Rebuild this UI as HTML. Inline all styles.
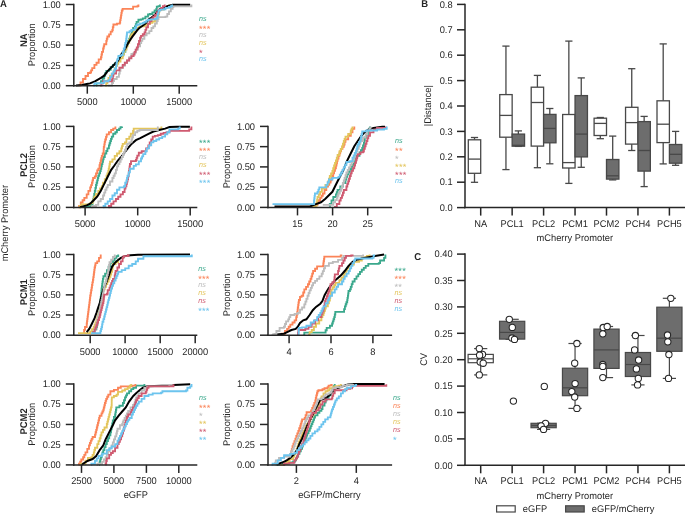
<!DOCTYPE html>
<html><head><meta charset="utf-8"><style>
html,body{margin:0;padding:0;background:#fff;width:685px;height:514px;overflow:hidden}
svg{display:block;font-family:"Liberation Sans",sans-serif;will-change:transform;text-rendering:geometricPrecision}
</style></head><body>
<svg width="685" height="514" viewBox="0 0 685 514">
<rect width="685" height="514" fill="#fff"/>
<polyline points="96.0,85.5 96.5,85.5 96.5,83.4 100.9,83.4 100.9,81.2 102.6,81.2 102.6,78.5 104.2,78.5 104.2,75.7 105.2,75.7 105.2,73.2 106.3,73.2 106.3,70.8 109.1,70.8 109.1,69.7 110.7,69.7 110.7,67.0 112.9,67.0 112.9,64.8 115.0,64.8 115.0,63.2 117.2,63.2 117.2,61.6 118.1,61.6 118.1,58.9 118.9,58.9 118.9,56.1 121.6,56.1 121.6,54.5 123.8,54.5 123.8,51.8 125.4,51.8 125.4,48.5 126.2,48.5 126.2,46.4 127.0,46.4 127.0,44.2 128.1,44.2 128.1,40.9 129.2,40.9 129.2,38.7 130.0,38.7 130.0,36.5 130.8,36.5 130.8,34.4 131.9,34.4 131.9,32.2 132.5,32.2 132.5,30.1 133.1,30.1 133.1,28.0 134.9,28.0 134.9,26.3 135.8,26.3 135.8,24.1 136.6,24.1 136.6,21.9 138.4,21.9 138.4,19.7 141.0,19.7 141.0,19.3 142.8,19.3 142.8,18.4 145.4,18.4 145.4,16.6 148.0,16.6 148.0,14.5 149.8,14.5 149.8,14.0 152.4,14.0 152.4,12.3 154.6,12.3 154.6,10.5 156.3,10.5 156.3,8.8 156.8,8.8 156.8,6.6 158.5,6.6 158.5,6.1 159.9,6.1 159.9,4.5" fill="none" stroke="#3aa88c" stroke-width="1.85" stroke-linejoin="miter" stroke-linecap="butt"/>
<polyline points="78.7,85.2 80.5,85.2 80.5,82.5 83.0,82.5 83.0,79.0 85.5,79.0 85.5,76.0 88.0,76.0 88.0,73.0 90.0,73.0 90.0,72.5 91.1,72.5 91.1,70.3 92.2,70.3 92.2,68.1 94.4,68.1 94.4,64.8 96.5,64.8 96.5,62.7 98.7,62.7 98.7,59.4 100.9,59.4 100.9,57.2 101.5,57.2 101.5,54.5 102.0,54.5 102.0,51.8 103.1,51.8 103.1,48.5 103.7,48.5 103.7,46.4 104.2,46.4 104.2,44.2 106.3,44.2 106.3,40.9 106.8,40.9 106.8,38.7 107.4,38.7 107.4,36.5 109.1,36.5 109.1,34.4 110.7,34.4 110.7,31.6 112.3,31.6 112.3,30.0 112.8,30.0 112.8,27.2 113.4,27.2 113.4,24.5 117.0,24.5 117.0,23.6 119.8,23.6 119.8,22.5 120.2,22.5 120.2,20.1 120.6,20.1 120.6,17.7 121.0,17.7 121.0,15.3 121.4,15.3 121.4,12.9 121.8,12.9 121.8,10.5 122.6,10.5 122.6,8.8 132.3,8.8 133.1,8.8 133.1,6.6 137.5,6.6 137.5,6.1 138.4,6.1 138.4,4.5" fill="none" stroke="#fb8458" stroke-width="1.85" stroke-linejoin="miter" stroke-linecap="butt"/>
<polyline points="105.0,85.5 106.3,85.5 106.3,83.4 107.4,83.4 107.4,80.7 108.5,80.7 108.5,77.9 110.1,77.9 110.1,75.7 111.8,75.7 111.8,73.6 114.0,73.6 114.0,70.3 115.0,70.3 115.0,68.1 116.1,68.1 116.1,65.9 117.2,65.9 117.2,63.8 118.3,63.8 118.3,61.6 120.5,61.6 120.5,58.3 122.7,58.3 122.7,56.1 123.2,56.1 123.2,54.0 123.8,54.0 123.8,51.8 124.8,51.8 124.8,49.6 126.5,49.6 126.5,46.3 127.6,46.3 127.6,43.1 129.2,43.1 129.2,39.8 130.3,39.8 130.3,36.5 131.4,36.5 131.4,34.4 132.7,34.4 132.7,33.3 134.0,33.3 134.0,31.5 135.8,31.5 135.8,29.8 137.5,29.8 137.5,28.0 139.3,28.0 139.3,26.3 142.8,26.3 144.5,26.3 144.5,25.0 146.3,25.0 146.3,24.1 149.8,24.1 149.8,22.8 152.4,22.8 152.4,21.5 155.0,21.5 155.0,19.7 156.8,19.7 156.8,16.6 158.5,16.6 158.5,14.0 158.9,14.0 158.9,11.8 159.4,11.8 159.4,9.6 163.8,9.6 163.8,7.9 167.3,7.9 167.3,6.1 169.0,6.1 169.0,4.5" fill="none" stroke="#e3c55c" stroke-width="1.85" stroke-linejoin="miter" stroke-linecap="butt"/>
<polyline points="76.0,85.6 82.0,84.9 88.0,83.8 90.0,83.4 95.4,81.2 100.9,77.9 104.2,75.7 107.4,71.4 111.8,67.0 115.0,63.8 118.3,60.5 121.6,54.0 123.8,50.7 125.9,47.4 128.1,43.1 130.3,39.8 132.4,36.6 134.9,33.3 137.5,29.8 139.3,28.0 141.9,26.3 145.4,23.6 148.9,19.3 151.5,17.5 155.0,14.9 157.7,11.4 160.3,8.8 163.8,7.9 167.3,6.1 170.8,5.2 172.6,4.8 190.2,4.8" fill="none" stroke="#000000" stroke-width="2.0" stroke-linejoin="miter" stroke-linecap="butt"/>
<polyline points="108.0,85.5 112.0,85.5 112.0,83.0 113.0,83.0 113.0,81.0 114.0,81.0 114.0,79.0 116.7,79.0 116.7,76.8 118.9,76.8 118.9,73.6 119.7,73.6 119.7,70.8 120.5,70.8 120.5,68.1 122.7,68.1 122.7,65.9 124.8,65.9 124.8,62.7 127.0,62.7 127.0,60.5 129.2,60.5 129.2,57.2 131.4,57.2 131.4,54.0 133.6,54.0 133.6,52.9 135.7,52.9 135.7,49.6 137.9,49.6 137.9,46.3 140.1,46.3 140.1,43.1 141.2,43.1 141.2,40.9 142.3,40.9 142.3,38.7 144.4,38.7 144.4,35.4 146.6,35.4 146.6,33.3 149.3,33.3 149.3,31.1 151.5,31.1 151.5,28.0 153.3,28.0 153.3,26.3 155.0,26.3 155.0,23.6 156.8,23.6 156.8,21.0 157.7,21.0 157.7,19.1 158.5,19.1 158.5,17.1 165.5,17.1 165.5,16.6 167.3,16.6 167.3,14.0 169.0,14.0 169.0,11.4 170.8,11.4 170.8,8.8 172.6,8.8 172.6,7.0 173.4,7.0 173.4,6.4 191.4,6.4 191.4,6.4 191.4,4.5" fill="none" stroke="#bcbcbc" stroke-width="1.85" stroke-linejoin="miter" stroke-linecap="butt"/>
<polyline points="100.0,85.5 101.5,85.5 101.5,83.3 103.1,83.3 103.1,81.2 111.8,81.2 111.8,80.1 112.3,80.1 112.3,77.9 112.9,77.9 112.9,75.8 113.4,75.8 113.4,73.6 116.1,73.6 116.1,70.3 119.4,70.3 119.4,67.6 122.7,67.6 122.7,64.8 124.8,64.8 124.8,62.7 127.0,62.7 127.0,60.5 129.2,60.5 129.2,58.3 131.4,58.3 131.4,56.1 133.6,56.1 133.6,54.5 134.6,54.5 134.6,51.8 135.7,51.8 135.7,49.6 136.8,49.6 136.8,47.4 137.9,47.4 137.9,44.2 139.0,44.2 139.0,40.9 140.1,40.9 140.1,37.6 141.0,37.6 141.0,35.9 142.8,35.9 142.8,34.2 144.5,34.2 144.5,32.4 145.4,32.4 145.4,29.8 146.3,29.8 146.3,27.2 148.0,27.2 148.0,23.6 149.8,23.6 149.8,21.0 151.5,21.0 151.5,18.4 153.3,18.4 153.3,16.6 155.0,16.6 155.0,14.9 156.8,14.9 156.8,12.3 158.5,12.3 158.5,9.6 161.2,9.6 161.2,7.9 162.9,7.9 162.9,6.1 164.7,6.1 164.7,4.5" fill="none" stroke="#cf5a70" stroke-width="1.85" stroke-linejoin="miter" stroke-linecap="butt"/>
<polyline points="93.0,85.5 94.4,85.5 94.4,83.4 102.0,83.4 102.0,82.8 104.2,82.8 104.2,81.2 108.5,81.2 108.5,80.1 110.1,80.1 110.1,76.8 111.8,76.8 111.8,73.6 113.4,73.6 113.4,71.4 114.8,71.4 114.8,68.7 116.1,68.7 116.1,65.9 116.5,65.9 116.5,63.7 116.8,63.7 116.8,61.6 117.2,61.6 117.2,59.4 118.3,59.4 118.3,56.1 119.9,56.1 119.9,55.6 121.6,55.6 121.6,55.0 122.7,55.0 122.7,51.8 123.8,51.8 123.8,48.5 124.8,48.5 124.8,45.2 125.3,45.2 125.3,43.0 125.9,43.0 125.9,40.9 126.2,40.9 126.2,38.7 126.5,38.7 126.5,36.5 126.8,36.5 126.8,34.5 127.0,34.5 127.0,32.4 129.6,32.4 129.6,31.1 131.4,31.1 131.4,29.8 134.9,29.8 134.9,28.0 136.2,28.0 136.2,25.4 137.5,25.4 137.5,24.5 140.1,24.5 140.1,23.6 142.8,23.6 142.8,22.8 144.5,22.8 144.5,21.9 146.3,21.9 146.3,20.6 148.0,20.6 148.0,19.7 150.7,19.7 150.7,19.3 155.0,19.3 155.0,18.8 156.8,18.8 156.8,17.5 157.7,17.5 157.7,14.0 158.5,14.0 158.5,10.5 160.3,10.5 160.3,9.6 163.8,9.6 163.8,9.2 165.5,9.2 165.5,7.9 169.0,7.9 169.0,7.0 170.8,7.0 170.8,6.1 172.1,6.1 172.1,4.5" fill="none" stroke="#6cc4ee" stroke-width="1.85" stroke-linejoin="miter" stroke-linecap="butt"/>
<line x1="73.80" y1="3.75" x2="73.80" y2="86.45" stroke="#262626" stroke-width="1.5" stroke-linecap="butt"/>
<line x1="65.80" y1="4.50" x2="73.80" y2="4.50" stroke="#262626" stroke-width="1.5" stroke-linecap="butt"/>
<text font-size="9.3" text-anchor="end" fill="#262626" transform="translate(60.80 7.70) scale(1 1.04)">1.00</text>
<line x1="65.80" y1="24.80" x2="73.80" y2="24.80" stroke="#262626" stroke-width="1.5" stroke-linecap="butt"/>
<text font-size="9.3" text-anchor="end" fill="#262626" transform="translate(60.80 28.00) scale(1 1.04)">0.75</text>
<line x1="65.80" y1="45.10" x2="73.80" y2="45.10" stroke="#262626" stroke-width="1.5" stroke-linecap="butt"/>
<text font-size="9.3" text-anchor="end" fill="#262626" transform="translate(60.80 48.30) scale(1 1.04)">0.50</text>
<line x1="65.80" y1="65.40" x2="73.80" y2="65.40" stroke="#262626" stroke-width="1.5" stroke-linecap="butt"/>
<text font-size="9.3" text-anchor="end" fill="#262626" transform="translate(60.80 68.60) scale(1 1.04)">0.25</text>
<line x1="65.80" y1="85.70" x2="73.80" y2="85.70" stroke="#262626" stroke-width="1.5" stroke-linecap="butt"/>
<text font-size="9.3" text-anchor="end" fill="#262626" transform="translate(60.80 88.90) scale(1 1.04)">0.00</text>
<line x1="73.05" y1="85.70" x2="197.30" y2="85.70" stroke="#262626" stroke-width="1.5" stroke-linecap="butt"/>
<line x1="87.30" y1="85.70" x2="87.30" y2="93.70" stroke="#262626" stroke-width="1.5" stroke-linecap="butt"/>
<text font-size="9.3" text-anchor="middle" fill="#262626" transform="translate(87.30 105.20) scale(1 1.04)">5000</text>
<line x1="133.30" y1="85.70" x2="133.30" y2="93.70" stroke="#262626" stroke-width="1.5" stroke-linecap="butt"/>
<text font-size="9.3" text-anchor="middle" fill="#262626" transform="translate(133.30 105.20) scale(1 1.04)">10000</text>
<line x1="179.20" y1="85.70" x2="179.20" y2="93.70" stroke="#262626" stroke-width="1.5" stroke-linecap="butt"/>
<text font-size="9.3" text-anchor="middle" fill="#262626" transform="translate(179.20 105.20) scale(1 1.04)">15000</text>
<text font-size="7.7" text-anchor="start" fill="#3aa88c" font-style="italic" transform="translate(199.00 20.80)" textLength="7.6" lengthAdjust="spacingAndGlyphs">ns</text>
<text font-size="9.2" text-anchor="start" fill="#fb8458" transform="translate(199.00 31.80)" letter-spacing="0.25">***</text>
<text font-size="7.7" text-anchor="start" fill="#bcbcbc" font-style="italic" transform="translate(199.00 36.80)" textLength="7.6" lengthAdjust="spacingAndGlyphs">ns</text>
<text font-size="7.7" text-anchor="start" fill="#e3c55c" font-style="italic" transform="translate(199.00 44.80)" textLength="7.6" lengthAdjust="spacingAndGlyphs">ns</text>
<text font-size="9.2" text-anchor="start" fill="#cf5a70" transform="translate(199.00 55.80)" letter-spacing="0.25">*</text>
<text font-size="7.7" text-anchor="start" fill="#6cc4ee" font-style="italic" transform="translate(199.00 60.80)" textLength="7.6" lengthAdjust="spacingAndGlyphs">ns</text>
<polyline points="84.0,207.2 85.5,207.2 85.5,206.0 90.2,206.0 90.2,204.9 92.5,204.9 92.5,201.4 93.1,201.4 93.1,199.1 93.7,199.1 93.7,196.7 94.2,196.7 94.2,193.8 94.8,193.8 94.8,190.9 95.4,190.9 95.4,187.9 96.0,187.9 96.0,185.0 96.6,185.0 96.6,182.7 97.2,182.7 97.2,180.3 97.8,180.3 97.8,178.0 98.3,178.0 98.3,175.7 99.2,175.7 99.2,173.3 100.1,173.3 100.1,171.0 100.7,171.0 100.7,168.7 101.3,168.7 101.3,166.3 101.8,166.3 101.8,164.0 102.4,164.0 102.4,161.7 103.0,161.7 103.0,159.3 103.6,159.3 103.6,157.0 104.8,157.0 104.8,153.5 106.3,153.5 106.3,151.0 107.4,151.0 107.4,148.3 108.9,148.3 108.9,145.4 109.6,145.4 109.6,143.2 110.3,143.2 110.3,141.0 111.0,141.0 111.0,138.8 111.8,138.8 111.8,136.6 113.2,136.6 113.2,133.7 115.4,133.7 115.4,132.2 116.9,132.2 116.9,130.0 119.1,130.0 119.1,128.6 120.5,128.6 120.5,127.1 122.0,127.1 122.0,126.4" fill="none" stroke="#3aa88c" stroke-width="1.85" stroke-linejoin="miter" stroke-linecap="butt"/>
<polyline points="78.6,207.2 79.1,207.2 79.1,206.0 80.8,206.0 80.8,202.5 82.6,202.5 82.6,200.2 84.3,200.2 84.3,197.9 86.7,197.9 86.7,194.4 88.4,194.4 88.4,190.9 90.2,190.9 90.2,187.4 91.1,187.4 91.1,185.1 91.9,185.1 91.9,182.7 92.5,182.7 92.5,180.3 93.1,180.3 93.1,178.0 94.8,178.0 94.8,176.3 96.0,176.3 96.0,173.3 97.2,173.3 97.2,170.4 98.3,170.4 98.3,168.7 99.5,168.7 99.5,165.2 100.1,165.2 100.1,162.8 100.7,162.8 100.7,160.5 101.2,160.5 101.2,158.2 101.8,158.2 101.8,155.8 102.7,155.8 102.7,153.5 103.6,153.5 103.6,151.2 103.7,151.2 103.7,149.0 103.8,149.0 103.8,146.8 104.3,146.8 104.3,144.4 104.7,144.4 104.7,141.9 105.2,141.9 105.2,139.5 106.0,139.5 106.0,136.9 106.7,136.9 106.7,134.4 108.9,134.4 108.9,132.2 111.1,132.2 111.1,130.0 113.2,130.0 113.2,128.6 115.4,128.6 115.4,126.4" fill="none" stroke="#fb8458" stroke-width="1.85" stroke-linejoin="miter" stroke-linecap="butt"/>
<polyline points="79.5,207.2 79.7,207.2 79.7,206.0 81.4,206.0 81.4,204.3 86.7,204.3 90.2,204.3 90.2,203.1 92.5,203.1 92.5,201.4 93.4,201.4 93.4,199.1 94.3,199.1 94.3,196.7 96.0,196.7 96.0,193.8 98.3,193.8 98.3,190.9 100.1,190.9 100.1,188.5 101.8,188.5 101.8,186.2 103.0,186.2 103.0,182.7 104.8,182.7 104.8,179.2 106.5,179.2 106.5,175.7 107.4,175.7 107.4,173.3 108.3,173.3 108.3,171.0 108.7,171.0 108.7,168.7 109.2,168.7 109.2,166.3 109.6,166.3 109.6,164.0 110.0,164.0 110.0,161.7 112.4,161.7 112.4,159.3 114.7,159.3 114.7,155.8 117.0,155.8 117.0,153.5 119.4,153.5 119.4,151.2 121.3,151.2 121.3,148.3 122.0,148.3 122.0,146.1 122.7,146.1 122.7,143.9 124.9,143.9 124.9,142.4 126.4,142.4 126.4,138.8 129.3,138.8 129.3,136.6 130.8,136.6 130.8,133.7 133.0,133.7 133.0,130.8 133.7,130.8 133.7,128.6 159.2,128.6 161.4,128.6 161.4,126.4" fill="none" stroke="#e3c55c" stroke-width="1.85" stroke-linejoin="miter" stroke-linecap="butt"/>
<polyline points="80.0,207.2 82.0,206.6 86.7,205.4 90.2,203.7 93.7,200.2 97.2,196.7 100.7,190.9 104.2,183.9 107.7,176.8 111.2,169.8 114.4,165.5 117.5,161.0 121.0,157.0 124.6,152.5 127.8,148.3 131.5,143.9 135.9,140.2 140.3,138.1 144.6,135.9 149.0,133.7 153.4,131.5 159.2,130.0 165.1,128.6 169.5,127.1 176.8,126.7 189.9,126.7" fill="none" stroke="#000000" stroke-width="2.0" stroke-linejoin="miter" stroke-linecap="butt"/>
<polyline points="91.0,207.2 92.5,207.2 92.5,206.0 96.0,206.0 96.0,204.9 98.3,204.9 98.3,201.4 100.7,201.4 100.7,199.0 103.0,199.0 103.0,195.5 104.2,195.5 104.2,192.6 105.3,192.6 105.3,189.7 106.5,189.7 106.5,187.3 107.7,187.3 107.7,185.0 110.0,185.0 110.0,181.5 112.4,181.5 112.4,178.0 113.6,178.0 113.6,175.7 114.7,175.7 114.7,173.3 115.9,173.3 115.9,169.8 117.0,169.8 117.0,166.3 118.2,166.3 118.2,164.0 119.4,164.0 119.4,161.7 120.6,161.7 120.6,159.3 121.7,159.3 121.7,157.0 122.9,157.0 122.9,154.7 123.9,154.7 123.9,152.2 124.9,152.2 124.9,149.7 126.0,149.7 126.0,146.8 127.1,146.8 127.1,143.9 129.3,143.9 129.3,142.4 131.5,142.4 131.5,139.5 132.2,139.5 132.2,137.3 133.0,137.3 133.0,135.1 135.1,135.1 135.1,132.2 137.3,132.2 137.3,130.8 139.5,130.8 139.5,130.0 156.0,130.0 157.8,130.0 157.8,126.6" fill="none" stroke="#bcbcbc" stroke-width="1.85" stroke-linejoin="miter" stroke-linecap="butt"/>
<polyline points="108.5,207.2 108.9,207.2 108.9,206.0 111.2,206.0 111.2,203.7 113.5,203.7 113.5,201.4 115.9,201.4 115.9,199.0 118.2,199.0 118.2,196.7 120.5,196.7 120.5,194.4 122.9,194.4 122.9,192.0 124.6,192.0 124.6,188.5 125.5,188.5 125.5,186.2 126.4,186.2 126.4,183.9 127.0,183.9 127.0,181.6 127.5,181.6 127.5,179.2 128.1,179.2 128.1,176.2 128.7,176.2 128.7,173.3 129.0,173.3 129.0,171.0 129.3,171.0 129.3,168.7 129.6,168.7 129.6,166.3 129.9,166.3 129.9,164.0 131.0,164.0 131.0,161.1 133.0,161.1 135.9,161.1 135.9,160.0 136.6,160.0 136.6,157.8 137.3,157.8 137.3,155.6 138.8,155.6 138.8,152.7 141.7,152.7 141.7,151.2 144.6,151.2 146.1,151.2 146.1,148.3 148.3,148.3 148.3,145.4 149.7,145.4 149.7,142.4 151.2,142.4 151.2,139.5 152.7,139.5 152.7,136.6 154.9,136.6 154.9,135.9 157.8,135.9 157.8,135.1 160.7,135.1 160.7,133.7 163.6,133.7 163.6,132.9 166.5,132.9 166.5,132.2 169.5,132.2 169.5,130.8 187.0,130.8 189.2,130.8 189.2,129.3 191.4,129.3 191.4,126.6" fill="none" stroke="#cf5a70" stroke-width="1.85" stroke-linejoin="miter" stroke-linecap="butt"/>
<polyline points="103.0,207.2 103.6,207.2 103.6,206.0 105.3,206.0 105.3,203.7 107.7,203.7 107.7,201.4 110.0,201.4 110.0,199.0 112.4,199.0 112.4,195.5 114.7,195.5 114.7,193.2 117.0,193.2 117.0,189.7 119.4,189.7 119.4,187.4 124.0,187.4 124.0,186.2 125.2,186.2 125.2,182.7 126.4,182.7 126.4,180.3 127.0,180.3 127.0,178.0 127.5,178.0 127.5,175.7 128.7,175.7 128.7,172.2 129.9,172.2 129.9,168.7 131.5,168.7 133.7,168.7 133.7,165.8 135.9,165.8 135.9,164.3 138.8,164.3 138.8,161.4 141.0,161.4 141.0,158.5 142.1,158.5 142.1,156.3 143.2,156.3 143.2,154.1 145.4,154.1 145.4,151.2 146.8,151.2 146.8,148.3 149.0,148.3 149.0,145.4 151.2,145.4 151.2,142.4 153.4,142.4 153.4,141.0 156.3,141.0 156.3,139.5 159.2,139.5 159.2,138.1 162.2,138.1 162.2,136.6 165.1,136.6 165.1,134.4 167.3,134.4 167.3,132.2 169.5,132.2 169.5,129.3 178.2,129.3 178.2,128.6 179.7,128.6 179.7,126.6" fill="none" stroke="#6cc4ee" stroke-width="1.85" stroke-linejoin="miter" stroke-linecap="butt"/>
<line x1="73.80" y1="125.65" x2="73.80" y2="208.15" stroke="#262626" stroke-width="1.5" stroke-linecap="butt"/>
<line x1="65.80" y1="126.40" x2="73.80" y2="126.40" stroke="#262626" stroke-width="1.5" stroke-linecap="butt"/>
<text font-size="9.3" text-anchor="end" fill="#262626" transform="translate(60.80 129.60) scale(1 1.04)">1.00</text>
<line x1="65.80" y1="146.65" x2="73.80" y2="146.65" stroke="#262626" stroke-width="1.5" stroke-linecap="butt"/>
<text font-size="9.3" text-anchor="end" fill="#262626" transform="translate(60.80 149.85) scale(1 1.04)">0.75</text>
<line x1="65.80" y1="166.90" x2="73.80" y2="166.90" stroke="#262626" stroke-width="1.5" stroke-linecap="butt"/>
<text font-size="9.3" text-anchor="end" fill="#262626" transform="translate(60.80 170.10) scale(1 1.04)">0.50</text>
<line x1="65.80" y1="187.15" x2="73.80" y2="187.15" stroke="#262626" stroke-width="1.5" stroke-linecap="butt"/>
<text font-size="9.3" text-anchor="end" fill="#262626" transform="translate(60.80 190.35) scale(1 1.04)">0.25</text>
<line x1="65.80" y1="207.40" x2="73.80" y2="207.40" stroke="#262626" stroke-width="1.5" stroke-linecap="butt"/>
<text font-size="9.3" text-anchor="end" fill="#262626" transform="translate(60.80 210.60) scale(1 1.04)">0.00</text>
<line x1="73.05" y1="207.40" x2="197.30" y2="207.40" stroke="#262626" stroke-width="1.5" stroke-linecap="butt"/>
<line x1="85.10" y1="207.40" x2="85.10" y2="215.40" stroke="#262626" stroke-width="1.5" stroke-linecap="butt"/>
<text font-size="9.3" text-anchor="middle" fill="#262626" transform="translate(85.10 226.90) scale(1 1.04)">5000</text>
<line x1="137.70" y1="207.40" x2="137.70" y2="215.40" stroke="#262626" stroke-width="1.5" stroke-linecap="butt"/>
<text font-size="9.3" text-anchor="middle" fill="#262626" transform="translate(137.70 226.90) scale(1 1.04)">10000</text>
<line x1="190.20" y1="207.40" x2="190.20" y2="215.40" stroke="#262626" stroke-width="1.5" stroke-linecap="butt"/>
<text font-size="9.3" text-anchor="middle" fill="#262626" transform="translate(190.20 226.90) scale(1 1.04)">15000</text>
<text font-size="9.2" text-anchor="start" fill="#3aa88c" transform="translate(199.00 145.70)" letter-spacing="0.25">***</text>
<text font-size="9.2" text-anchor="start" fill="#fb8458" transform="translate(199.00 153.70)" letter-spacing="0.25">***</text>
<text font-size="7.7" text-anchor="start" fill="#bcbcbc" font-style="italic" transform="translate(199.00 158.70)" textLength="7.6" lengthAdjust="spacingAndGlyphs">ns</text>
<text font-size="7.7" text-anchor="start" fill="#e3c55c" font-style="italic" transform="translate(199.00 166.70)" textLength="7.6" lengthAdjust="spacingAndGlyphs">ns</text>
<text font-size="9.2" text-anchor="start" fill="#cf5a70" transform="translate(199.00 177.70)" letter-spacing="0.25">***</text>
<text font-size="9.2" text-anchor="start" fill="#6cc4ee" transform="translate(199.00 185.70)" letter-spacing="0.25">***</text>
<polyline points="329.5,206.4 329.8,206.4 329.8,204.0 331.5,204.0 331.5,200.5 333.3,200.5 333.3,197.0 335.9,197.0 335.9,194.4 336.8,194.4 336.8,192.2 337.6,192.2 337.6,190.0 340.3,190.0 340.3,186.5 342.9,186.5 342.9,183.0 345.5,183.0 345.5,179.5 346.4,179.5 346.4,176.9 347.3,176.9 347.3,174.3 348.6,174.3 348.6,171.7 349.9,171.7 349.9,169.0 351.2,169.0 351.2,166.8 352.5,166.8 352.5,164.7 353.9,164.7 353.9,162.5 355.2,162.5 355.2,160.3 356.0,160.3 356.0,158.1 356.9,158.1 356.9,155.9 359.5,155.9 359.5,152.4 360.9,152.4 360.9,150.2 362.2,150.2 362.2,148.0 363.0,148.0 363.0,145.4 363.9,145.4 363.9,142.8 364.4,142.8 364.4,140.2 364.8,140.2 364.8,137.5 366.5,137.5 366.5,134.0 368.3,134.0 368.3,130.5 369.1,130.5 369.1,128.6 370.0,128.6 370.0,126.6" fill="none" stroke="#3aa88c" stroke-width="1.85" stroke-linejoin="miter" stroke-linecap="butt"/>
<polyline points="311.7,206.4 315.6,206.4 315.6,204.9 317.5,204.9 317.5,202.3 318.8,202.3 318.8,200.1 320.1,200.1 320.1,197.9 321.5,197.9 321.5,195.7 322.8,195.7 322.8,193.5 324.5,193.5 324.5,190.0 326.3,190.0 326.3,186.5 328.0,186.5 328.0,184.8 329.3,184.8 329.3,182.6 330.6,182.6 330.6,180.4 331.5,180.4 331.5,178.2 332.4,178.2 332.4,176.0 333.2,176.0 333.2,173.4 334.1,173.4 334.1,170.8 335.0,170.8 335.0,168.2 335.9,168.2 335.9,165.5 336.5,165.5 336.5,163.2 337.0,163.2 337.0,160.8 337.6,160.8 337.6,158.5 338.5,158.5 338.5,155.9 339.4,155.9 339.4,153.3 340.2,153.3 340.2,151.1 341.1,151.1 341.1,148.9 342.5,148.9 342.5,146.7 343.8,146.7 343.8,144.5 344.6,144.5 344.6,141.9 345.5,141.9 345.5,139.3 348.2,139.3 348.2,135.8 350.8,135.8 350.8,132.3 352.5,132.3 352.5,128.8 354.3,128.8 354.3,126.6" fill="none" stroke="#fb8458" stroke-width="1.85" stroke-linejoin="miter" stroke-linecap="butt"/>
<polyline points="309.8,206.4 314.0,206.4 314.0,205.8 316.6,205.8 316.6,202.3 317.1,202.3 317.1,199.7 317.5,199.7 317.5,197.0 318.8,197.0 318.8,194.4 320.1,194.4 320.1,191.8 321.9,191.8 321.9,188.3 325.4,188.3 325.4,184.8 328.0,184.8 328.0,181.3 328.9,181.3 328.9,178.7 329.8,178.7 329.8,176.0 331.1,176.0 331.1,173.4 332.4,173.4 332.4,170.8 333.2,170.8 333.2,168.2 334.1,168.2 334.1,165.5 335.0,165.5 335.0,162.9 335.9,162.9 335.9,160.3 336.8,160.3 336.8,157.7 337.6,157.7 337.6,155.0 339.4,155.0 339.4,151.5 340.7,151.5 340.7,148.9 342.0,148.9 342.0,146.3 342.9,146.3 342.9,143.7 343.8,143.7 343.8,141.0 344.6,141.0 344.6,138.8 345.5,138.8 345.5,136.6 348.2,136.6 348.2,134.0 350.8,134.0 350.8,130.5 351.6,130.5 351.6,128.6 352.5,128.6 352.5,126.6" fill="none" stroke="#e3c55c" stroke-width="1.85" stroke-linejoin="miter" stroke-linecap="butt"/>
<polyline points="274.5,206.6 310.0,206.4 314.0,204.9 321.0,202.3 325.4,198.8 328.9,195.3 332.4,191.8 335.0,186.5 337.6,181.3 340.3,176.0 343.8,169.0 347.3,160.3 350.8,153.3 354.3,146.3 357.8,141.0 361.3,135.8 364.8,132.3 368.3,129.6 373.5,127.9 382.3,126.7 385.0,126.7" fill="none" stroke="#000000" stroke-width="2.0" stroke-linejoin="miter" stroke-linecap="butt"/>
<polyline points="322.8,204.9 329.8,204.9 333.3,204.9 333.3,202.3 335.1,202.3 335.1,200.1 336.8,200.1 336.8,197.9 337.6,197.9 337.6,195.7 338.5,195.7 338.5,193.5 339.8,193.5 339.8,190.9 341.1,190.9 341.1,188.3 342.0,188.3 342.0,185.7 342.9,185.7 342.9,183.0 343.8,183.0 343.8,180.4 344.6,180.4 344.6,177.8 345.5,177.8 345.5,175.2 346.4,175.2 346.4,172.5 347.7,172.5 347.7,169.9 349.0,169.9 349.0,167.3 350.4,167.3 350.4,164.7 351.7,164.7 351.7,162.0 353.0,162.0 353.0,159.4 354.3,159.4 354.3,156.8 355.1,156.8 355.1,154.2 356.0,154.2 356.0,151.5 357.4,151.5 357.4,148.9 358.7,148.9 358.7,146.3 359.5,146.3 359.5,143.7 360.4,143.7 360.4,141.0 363.0,141.0 363.0,137.5 365.7,137.5 365.7,134.0 367.4,134.0 367.4,130.5 369.5,130.5 369.5,128.6 370.5,128.6 370.5,126.6" fill="none" stroke="#bcbcbc" stroke-width="1.85" stroke-linejoin="miter" stroke-linecap="butt"/>
<polyline points="334.1,206.9 336.8,206.9 336.8,204.0 339.4,204.0 339.4,200.5 340.7,200.5 340.7,197.9 342.0,197.9 342.0,195.3 342.9,195.3 342.9,192.7 343.8,192.7 343.8,190.0 346.4,190.0 346.4,186.5 347.3,186.5 347.3,183.9 348.2,183.9 348.2,181.3 349.0,181.3 349.0,178.7 349.9,178.7 349.9,176.0 350.8,176.0 350.8,173.4 351.7,173.4 351.7,170.8 353.0,170.8 353.0,168.2 354.3,168.2 354.3,165.5 355.1,165.5 355.1,162.9 356.0,162.9 356.0,160.3 356.6,160.3 356.6,158.2 357.2,158.2 357.2,156.2 357.8,156.2 357.8,154.1 360.4,154.1 360.4,152.4 363.0,152.4 363.0,151.5 363.9,151.5 363.9,148.9 364.8,148.9 364.8,146.3 365.6,146.3 365.6,143.7 366.5,143.7 366.5,141.0 367.4,141.0 367.4,138.4 368.3,138.4 368.3,135.8 370.0,135.8 370.0,132.3 373.5,132.3 373.5,129.6 377.0,129.6 377.0,127.9 385.8,127.9 385.8,127.9 385.8,126.6" fill="none" stroke="#cf5a70" stroke-width="1.85" stroke-linejoin="miter" stroke-linecap="butt"/>
<polyline points="272.5,204.1 311.4,204.1 314.0,204.1 314.0,200.5 314.3,200.5 314.3,198.2 314.6,198.2 314.6,195.8 314.9,195.8 314.9,193.5 317.5,193.5 317.5,191.8 318.4,191.8 318.4,189.6 319.3,189.6 319.3,187.4 321.9,187.4 326.3,187.4 326.3,184.8 327.6,184.8 327.6,182.2 328.9,182.2 328.9,179.5 332.4,179.5 332.4,177.8 338.5,177.8 338.5,176.9 339.8,176.9 339.8,174.7 341.1,174.7 341.1,172.5 342.5,172.5 342.5,169.9 343.8,169.9 343.8,167.3 345.1,167.3 345.1,164.7 346.4,164.7 346.4,162.0 349.9,162.0 349.9,161.1 352.5,161.1 352.5,157.6 353.7,157.6 353.7,155.3 354.8,155.3 354.8,152.9 356.0,152.9 356.0,150.6 356.6,150.6 356.6,148.6 357.2,148.6 357.2,146.5 357.8,146.5 357.8,144.5 359.1,144.5 359.1,141.9 360.4,141.9 360.4,139.3 361.0,139.3 361.0,136.7 361.6,136.7 361.6,134.0 362.2,134.0 362.2,131.4 366.5,131.4 366.5,130.5 377.0,130.5 377.0,129.6 384.0,129.6 384.0,128.8 386.7,128.8 386.7,126.6" fill="none" stroke="#6cc4ee" stroke-width="1.85" stroke-linejoin="miter" stroke-linecap="butt"/>
<line x1="268.00" y1="125.65" x2="268.00" y2="208.15" stroke="#262626" stroke-width="1.5" stroke-linecap="butt"/>
<line x1="260.00" y1="126.40" x2="268.00" y2="126.40" stroke="#262626" stroke-width="1.5" stroke-linecap="butt"/>
<text font-size="9.3" text-anchor="end" fill="#262626" transform="translate(255.00 129.60) scale(1 1.04)">1.00</text>
<line x1="260.00" y1="146.65" x2="268.00" y2="146.65" stroke="#262626" stroke-width="1.5" stroke-linecap="butt"/>
<text font-size="9.3" text-anchor="end" fill="#262626" transform="translate(255.00 149.85) scale(1 1.04)">0.75</text>
<line x1="260.00" y1="166.90" x2="268.00" y2="166.90" stroke="#262626" stroke-width="1.5" stroke-linecap="butt"/>
<text font-size="9.3" text-anchor="end" fill="#262626" transform="translate(255.00 170.10) scale(1 1.04)">0.50</text>
<line x1="260.00" y1="187.15" x2="268.00" y2="187.15" stroke="#262626" stroke-width="1.5" stroke-linecap="butt"/>
<text font-size="9.3" text-anchor="end" fill="#262626" transform="translate(255.00 190.35) scale(1 1.04)">0.25</text>
<line x1="260.00" y1="207.40" x2="268.00" y2="207.40" stroke="#262626" stroke-width="1.5" stroke-linecap="butt"/>
<text font-size="9.3" text-anchor="end" fill="#262626" transform="translate(255.00 210.60) scale(1 1.04)">0.00</text>
<line x1="267.25" y1="207.40" x2="392.10" y2="207.40" stroke="#262626" stroke-width="1.5" stroke-linecap="butt"/>
<line x1="297.50" y1="207.40" x2="297.50" y2="215.40" stroke="#262626" stroke-width="1.5" stroke-linecap="butt"/>
<text font-size="9.3" text-anchor="middle" fill="#262626" transform="translate(297.50 226.90) scale(1 1.04)">15</text>
<line x1="332.60" y1="207.40" x2="332.60" y2="215.40" stroke="#262626" stroke-width="1.5" stroke-linecap="butt"/>
<text font-size="9.3" text-anchor="middle" fill="#262626" transform="translate(332.60 226.90) scale(1 1.04)">20</text>
<line x1="367.70" y1="207.40" x2="367.70" y2="215.40" stroke="#262626" stroke-width="1.5" stroke-linecap="butt"/>
<text font-size="9.3" text-anchor="middle" fill="#262626" transform="translate(367.70 226.90) scale(1 1.04)">25</text>
<text font-size="7.7" text-anchor="start" fill="#3aa88c" font-style="italic" transform="translate(395.10 142.70)" textLength="7.6" lengthAdjust="spacingAndGlyphs">ns</text>
<text font-size="9.2" text-anchor="start" fill="#fb8458" transform="translate(395.10 153.70)" letter-spacing="0.25">**</text>
<text font-size="9.2" text-anchor="start" fill="#bcbcbc" transform="translate(395.10 161.70)" letter-spacing="0.25">*</text>
<text font-size="9.2" text-anchor="start" fill="#e3c55c" transform="translate(395.10 169.70)" letter-spacing="0.25">***</text>
<text font-size="9.2" text-anchor="start" fill="#cf5a70" transform="translate(395.10 177.70)" letter-spacing="0.25">***</text>
<text font-size="7.7" text-anchor="start" fill="#6cc4ee" font-style="italic" transform="translate(395.10 182.70)" textLength="7.6" lengthAdjust="spacingAndGlyphs">ns</text>
<polyline points="92.9,331.9 94.6,331.9 94.6,329.4 96.4,329.4 96.4,327.0 96.9,327.0 96.9,324.6 97.5,324.6 97.5,322.3 98.1,322.3 98.1,320.0 98.4,320.0 98.4,317.6 98.7,317.6 98.7,315.3 99.0,315.3 99.0,313.0 99.2,313.0 99.2,310.8 99.4,310.8 99.4,308.6 99.6,308.6 99.6,306.4 99.9,306.4 99.9,304.2 100.2,304.2 100.2,301.9 100.4,301.9 100.4,299.6 100.7,299.6 100.7,297.2 101.0,297.2 101.0,295.0 101.2,295.0 101.2,292.9 101.4,292.9 101.4,290.7 101.6,290.7 101.6,288.5 101.9,288.5 101.9,286.1 102.2,286.1 102.2,283.8 102.5,283.8 102.5,281.5 102.9,281.5 102.9,278.9 103.4,278.9 103.4,276.2 105.1,276.2 105.1,273.6 106.9,273.6 106.9,270.1 108.6,270.1 108.6,266.6 110.4,266.6 110.4,263.1 113.0,263.1 113.0,260.5 114.7,260.5 114.7,257.9 116.5,257.9 116.5,256.1 118.2,256.1 118.2,254.4" fill="none" stroke="#3aa88c" stroke-width="1.85" stroke-linejoin="miter" stroke-linecap="butt"/>
<polyline points="83.2,332.6 84.1,332.6 84.1,329.8 85.0,329.8 85.0,327.0 86.7,327.0 86.7,323.5 87.0,323.5 87.0,321.1 87.3,321.1 87.3,318.8 87.6,318.8 87.6,316.5 87.9,316.5 87.9,314.1 88.2,314.1 88.2,311.8 88.5,311.8 88.5,309.5 88.8,309.5 88.8,307.1 89.1,307.1 89.1,304.8 89.4,304.8 89.4,302.5 89.7,302.5 89.7,300.1 90.0,300.1 90.0,297.8 90.2,297.8 90.2,295.5 90.7,295.5 90.7,292.9 91.1,292.9 91.1,290.2 91.6,290.2 91.6,287.6 92.0,287.6 92.0,285.0 92.4,285.0 92.4,282.4 92.9,282.4 92.9,279.7 93.3,279.7 93.3,277.1 93.7,277.1 93.7,274.5 94.0,274.5 94.0,272.2 94.3,272.2 94.3,269.8 94.6,269.8 94.6,267.5 95.1,267.5 95.1,265.3 95.5,265.3 95.5,263.1 97.2,263.1 97.2,261.4 99.0,261.4 99.0,257.9 100.7,257.9 100.7,254.4" fill="none" stroke="#fb8458" stroke-width="1.85" stroke-linejoin="miter" stroke-linecap="butt"/>
<polyline points="78.0,333.1 88.5,333.1 90.2,333.1 90.2,331.3 92.0,331.3 92.0,329.1 93.7,329.1 93.7,327.0 94.6,327.0 94.6,324.6 95.5,324.6 95.5,322.3 96.4,322.3 96.4,320.0 97.2,320.0 97.2,317.3 98.1,317.3 98.1,314.7 98.7,314.7 98.7,312.4 99.3,312.4 99.3,310.1 99.9,310.1 99.9,307.7 100.4,307.7 100.4,305.4 101.0,305.4 101.0,303.1 101.6,303.1 101.6,300.7 101.9,300.7 101.9,298.4 102.2,298.4 102.2,296.1 102.5,296.1 102.5,293.7 102.9,293.7 102.9,291.5 103.4,291.5 103.4,289.4 104.7,289.4 104.7,286.7 106.0,286.7 106.0,284.1 107.3,284.1 107.3,281.5 108.6,281.5 108.6,278.9 109.5,278.9 109.5,276.7 110.4,276.7 110.4,274.5 111.2,274.5 111.2,271.9 112.1,271.9 112.1,269.2 112.5,269.2 112.5,266.6 113.0,266.6 113.0,264.0 115.6,264.0 115.6,262.2 118.2,262.2 118.2,260.5" fill="none" stroke="#e3c55c" stroke-width="1.85" stroke-linejoin="miter" stroke-linecap="butt"/>
<polyline points="86.7,332.2 89.4,328.7 92.0,323.5 94.6,318.2 96.4,313.0 98.1,307.7 99.9,302.5 101.6,295.5 103.4,289.4 106.0,283.2 108.6,276.2 110.4,271.0 112.1,266.6 114.7,263.1 117.4,260.5 120.9,257.9 125.2,256.1 130.5,255.2 138.0,254.7 190.0,254.6" fill="none" stroke="#000000" stroke-width="2.0" stroke-linejoin="miter" stroke-linecap="butt"/>
<polyline points="93.7,332.2 94.6,332.2 94.6,329.6 95.5,329.6 95.5,327.0 96.1,327.0 96.1,324.6 96.7,324.6 96.7,322.3 97.2,322.3 97.2,320.0 97.8,320.0 97.8,317.6 98.4,317.6 98.4,315.3 99.0,315.3 99.0,313.0 99.4,313.0 99.4,310.8 99.9,310.8 99.9,308.6 100.3,308.6 100.3,306.4 100.7,306.4 100.7,304.2 101.2,304.2 101.2,302.0 101.6,302.0 101.6,299.9 102.1,299.9 102.1,297.7 102.5,297.7 102.5,295.5 102.9,295.5 102.9,293.3 103.4,293.3 103.4,291.1 103.8,291.1 103.8,288.9 104.2,288.9 104.2,286.7 104.8,286.7 104.8,284.4 105.4,284.4 105.4,282.1 106.0,282.1 106.0,279.7 106.6,279.7 106.6,277.4 107.2,277.4 107.2,275.1 107.7,275.1 107.7,272.7 108.2,272.7 108.2,270.1 108.6,270.1 108.6,267.5 109.0,267.5 109.0,264.9 109.5,264.9 109.5,262.2 111.2,262.2 111.2,259.6 113.0,259.6 113.0,257.0 114.7,257.0 114.7,254.4" fill="none" stroke="#bcbcbc" stroke-width="1.85" stroke-linejoin="miter" stroke-linecap="butt"/>
<polyline points="92.0,332.2 94.6,332.2 94.6,329.6 95.5,329.6 95.5,327.4 96.4,327.4 96.4,325.2 97.2,325.2 97.2,322.6 98.1,322.6 98.1,320.0 99.0,320.0 99.0,317.3 99.9,317.3 99.9,314.7 100.4,314.7 100.4,312.4 101.0,312.4 101.0,310.1 101.6,310.1 101.6,307.7 102.2,307.7 102.2,305.4 102.8,305.4 102.8,303.1 103.4,303.1 103.4,300.7 103.7,300.7 103.7,298.7 103.9,298.7 103.9,296.6 104.2,296.6 104.2,294.6 106.9,294.6 106.9,293.7 107.7,293.7 107.7,290.2 109.5,290.2 109.5,287.6 110.4,287.6 110.4,285.4 111.2,285.4 111.2,283.2 112.1,283.2 112.1,281.0 113.0,281.0 113.0,278.9 114.7,278.9 114.7,275.4 115.2,275.4 115.2,273.2 115.6,273.2 115.6,271.0 117.4,271.0 117.4,267.5 119.1,267.5 119.1,264.0 120.9,264.0 120.9,261.4 122.6,261.4 122.6,257.9 123.5,257.9 123.5,256.1 127.9,256.1 127.9,255.2 128.7,255.2 128.7,254.4" fill="none" stroke="#cf5a70" stroke-width="1.85" stroke-linejoin="miter" stroke-linecap="butt"/>
<polyline points="91.1,333.1 99.9,333.1 100.4,333.1 100.4,331.0 101.0,331.0 101.0,329.0 101.6,329.0 101.6,327.0 102.1,327.0 102.1,324.3 102.5,324.3 102.5,321.7 103.4,321.7 103.4,319.1 104.2,319.1 104.2,316.5 104.8,316.5 104.8,314.1 105.4,314.1 105.4,311.8 106.0,311.8 106.0,309.5 106.6,309.5 106.6,307.1 107.2,307.1 107.2,304.8 107.7,304.8 107.7,302.5 108.3,302.5 108.3,300.1 108.9,300.1 108.9,297.8 109.5,297.8 109.5,295.5 110.1,295.5 110.1,293.1 110.7,293.1 110.7,290.8 111.2,290.8 111.2,288.5 112.1,288.5 112.1,285.9 113.0,285.9 113.0,283.2 114.3,283.2 114.3,280.6 115.6,280.6 115.6,278.0 116.5,278.0 116.5,275.9 117.4,275.9 117.4,273.9 118.2,273.9 118.2,271.9 121.7,271.9 121.7,270.1 125.2,270.1 125.2,268.4 128.7,268.4 128.7,265.7 132.2,265.7 132.2,264.0 135.7,264.0 135.7,261.4 138.0,261.4 138.0,258.7 143.4,258.7 143.4,256.3 191.8,256.3 191.8,256.3 191.8,254.5" fill="none" stroke="#6cc4ee" stroke-width="1.85" stroke-linejoin="miter" stroke-linecap="butt"/>
<line x1="73.80" y1="253.75" x2="73.80" y2="335.95" stroke="#262626" stroke-width="1.5" stroke-linecap="butt"/>
<line x1="65.80" y1="254.50" x2="73.80" y2="254.50" stroke="#262626" stroke-width="1.5" stroke-linecap="butt"/>
<text font-size="9.3" text-anchor="end" fill="#262626" transform="translate(60.80 257.70) scale(1 1.04)">1.00</text>
<line x1="65.80" y1="274.68" x2="73.80" y2="274.68" stroke="#262626" stroke-width="1.5" stroke-linecap="butt"/>
<text font-size="9.3" text-anchor="end" fill="#262626" transform="translate(60.80 277.88) scale(1 1.04)">0.75</text>
<line x1="65.80" y1="294.85" x2="73.80" y2="294.85" stroke="#262626" stroke-width="1.5" stroke-linecap="butt"/>
<text font-size="9.3" text-anchor="end" fill="#262626" transform="translate(60.80 298.05) scale(1 1.04)">0.50</text>
<line x1="65.80" y1="315.02" x2="73.80" y2="315.02" stroke="#262626" stroke-width="1.5" stroke-linecap="butt"/>
<text font-size="9.3" text-anchor="end" fill="#262626" transform="translate(60.80 318.22) scale(1 1.04)">0.25</text>
<line x1="65.80" y1="335.20" x2="73.80" y2="335.20" stroke="#262626" stroke-width="1.5" stroke-linecap="butt"/>
<text font-size="9.3" text-anchor="end" fill="#262626" transform="translate(60.80 338.40) scale(1 1.04)">0.00</text>
<line x1="73.05" y1="335.20" x2="197.30" y2="335.20" stroke="#262626" stroke-width="1.5" stroke-linecap="butt"/>
<line x1="90.20" y1="335.20" x2="90.20" y2="343.20" stroke="#262626" stroke-width="1.5" stroke-linecap="butt"/>
<text font-size="9.3" text-anchor="middle" fill="#262626" transform="translate(90.20 354.70) scale(1 1.04)">5000</text>
<line x1="125.10" y1="335.20" x2="125.10" y2="343.20" stroke="#262626" stroke-width="1.5" stroke-linecap="butt"/>
<text font-size="9.3" text-anchor="middle" fill="#262626" transform="translate(125.10 354.70) scale(1 1.04)">10000</text>
<line x1="160.20" y1="335.20" x2="160.20" y2="343.20" stroke="#262626" stroke-width="1.5" stroke-linecap="butt"/>
<text font-size="9.3" text-anchor="middle" fill="#262626" transform="translate(160.20 354.70) scale(1 1.04)">15000</text>
<line x1="195.20" y1="335.20" x2="195.20" y2="343.20" stroke="#262626" stroke-width="1.5" stroke-linecap="butt"/>
<text font-size="9.3" text-anchor="middle" fill="#262626" transform="translate(195.20 354.70) scale(1 1.04)">20000</text>
<text font-size="7.7" text-anchor="start" fill="#3aa88c" font-style="italic" transform="translate(198.20 270.80)" textLength="7.6" lengthAdjust="spacingAndGlyphs">ns</text>
<text font-size="9.2" text-anchor="start" fill="#fb8458" transform="translate(198.20 281.80)" letter-spacing="0.25">***</text>
<text font-size="7.7" text-anchor="start" fill="#bcbcbc" font-style="italic" transform="translate(198.20 286.80)" textLength="7.6" lengthAdjust="spacingAndGlyphs">ns</text>
<text font-size="7.7" text-anchor="start" fill="#e3c55c" font-style="italic" transform="translate(198.20 294.80)" textLength="7.6" lengthAdjust="spacingAndGlyphs">ns</text>
<text font-size="7.7" text-anchor="start" fill="#cf5a70" font-style="italic" transform="translate(198.20 302.80)" textLength="7.6" lengthAdjust="spacingAndGlyphs">ns</text>
<text font-size="9.2" text-anchor="start" fill="#6cc4ee" transform="translate(198.20 313.80)" letter-spacing="0.25">***</text>
<polyline points="303.2,335.1 304.3,335.1 304.3,332.6 324.6,332.6 325.6,332.6 325.6,330.2 326.7,330.2 326.7,327.8 329.9,327.8 329.9,325.7 332.1,325.7 332.1,323.5 332.8,323.5 332.8,321.4 333.5,321.4 333.5,319.2 334.2,319.2 334.2,317.1 334.8,317.1 334.8,314.5 335.3,314.5 335.3,311.8 343.3,311.8 344.1,311.8 344.1,309.1 344.9,309.1 344.9,306.3 345.7,306.3 345.7,304.2 346.4,304.2 346.4,302.2 347.2,302.2 347.2,300.1 347.5,300.1 347.5,297.8 347.9,297.8 347.9,295.6 348.2,295.6 348.2,293.3 348.5,293.3 348.5,291.0 349.9,291.0 349.9,289.4 350.8,289.4 350.8,286.8 351.7,286.8 351.7,284.1 352.6,284.1 352.6,281.5 354.6,281.5 354.6,278.9 356.5,278.9 356.5,276.3 358.3,276.3 358.3,274.1 360.0,274.1 360.0,271.9 361.8,271.9 361.8,269.7 363.8,269.7 363.8,267.8 365.7,267.8 365.7,265.8 368.3,265.8 368.3,263.8 378.8,263.8 378.8,263.1 380.1,263.1 380.1,260.5 384.1,260.5 384.1,257.9 385.4,257.9 385.4,254.6" fill="none" stroke="#3aa88c" stroke-width="1.85" stroke-linejoin="miter" stroke-linecap="butt"/>
<polyline points="274.0,335.1 275.4,335.1 275.4,334.8 281.8,334.8 281.8,333.7 285.0,333.7 285.0,331.0 287.1,331.0 287.1,328.9 288.7,328.9 288.7,326.7 290.3,326.7 290.3,324.6 292.5,324.6 292.5,322.5 294.6,322.5 294.6,320.3 296.2,320.3 296.2,317.1 296.8,317.1 296.8,314.5 297.3,314.5 297.3,311.8 297.6,311.8 297.6,309.6 297.8,309.6 297.8,307.5 298.2,307.5 298.2,305.0 298.5,305.0 298.5,302.5 298.9,302.5 298.9,300.0 300.0,300.0 300.0,296.8 301.6,296.8 301.6,295.7 303.2,295.7 303.2,292.5 304.3,292.5 304.3,289.3 306.1,289.3 306.1,286.8 307.9,286.8 307.9,284.2 309.2,284.2 309.2,281.5 310.5,281.5 310.5,278.9 311.4,278.9 311.4,276.3 312.2,276.3 312.2,273.6 313.1,273.6 313.1,271.0 315.1,271.0 315.1,268.7 317.1,268.7 317.1,266.4 323.0,266.4 323.0,265.8 323.3,265.8 323.3,263.5 323.6,263.5 323.6,261.2 324.0,261.2 324.0,258.9 324.3,258.9 324.3,256.6 340.7,256.6 340.7,255.3 341.4,255.3 341.4,254.6" fill="none" stroke="#fb8458" stroke-width="1.85" stroke-linejoin="miter" stroke-linecap="butt"/>
<polyline points="308.0,335.1 309.6,335.1 309.6,332.1 311.7,332.1 311.7,330.0 313.9,330.0 313.9,326.7 316.0,326.7 316.0,323.5 319.2,323.5 319.2,320.3 321.4,320.3 321.4,317.1 322.4,317.1 322.4,315.0 323.5,315.0 323.5,312.8 324.2,312.8 324.2,310.7 325.0,310.7 325.0,308.5 325.7,308.5 325.7,306.4 327.8,306.4 327.8,303.2 328.9,303.2 328.9,300.5 329.9,300.5 329.9,297.8 330.3,297.8 330.3,295.7 330.7,295.7 330.7,293.6 331.1,293.6 331.1,291.5 331.5,291.5 331.5,289.4 332.8,289.4 332.8,287.2 334.2,287.2 334.2,285.0 335.5,285.0 335.5,282.8 339.4,282.8 339.4,280.2 341.4,280.2 341.4,277.6 343.4,277.6 343.4,275.0 344.7,275.0 344.7,272.8 346.0,272.8 346.0,270.6 347.3,270.6 347.3,268.4 348.6,268.4 348.6,266.4 349.9,266.4 349.9,264.5 353.9,264.5 353.9,261.8 359.1,261.8 359.1,260.5 361.8,260.5 361.8,257.2 367.0,257.2 367.0,255.9 369.6,255.9 369.6,254.6" fill="none" stroke="#e3c55c" stroke-width="1.85" stroke-linejoin="miter" stroke-linecap="butt"/>
<polyline points="273.0,335.1 274.3,334.8 283.9,333.7 287.1,332.1 291.4,330.0 295.7,328.9 297.8,326.7 300.0,323.0 303.2,320.3 306.4,319.3 309.6,315.0 312.8,310.2 316.0,306.9 320.3,303.7 322.4,301.1 324.6,295.2 326.7,291.4 328.5,288.5 332.8,282.8 336.8,278.9 340.7,275.6 344.7,271.0 348.6,265.8 352.6,261.8 356.5,259.9 361.8,258.5 368.3,257.2 374.9,255.9 384.1,254.6" fill="none" stroke="#000000" stroke-width="2.0" stroke-linejoin="miter" stroke-linecap="butt"/>
<polyline points="271.5,335.1 273.2,335.1 273.2,334.2 276.4,334.2 276.4,331.0 279.6,331.0 279.6,327.8 283.9,327.8 283.9,326.7 285.0,326.7 285.0,324.0 286.1,324.0 286.1,321.4 288.2,321.4 288.2,319.3 289.2,319.3 289.2,317.1 290.3,317.1 290.3,315.0 294.6,315.0 294.6,313.9 297.8,313.9 297.8,312.8 300.0,312.8 300.0,309.6 302.1,309.6 302.1,307.5 304.3,307.5 304.3,304.3 305.4,304.3 305.4,301.6 306.4,301.6 306.4,298.9 307.5,298.9 307.5,295.7 308.6,295.7 308.6,293.0 309.6,293.0 309.6,290.4 310.8,290.4 310.8,287.9 311.9,287.9 311.9,285.3 313.1,285.3 313.1,282.8 315.1,282.8 315.1,280.9 317.1,280.9 317.1,278.9 319.4,278.9 319.4,276.3 321.7,276.3 321.7,273.7 322.8,273.7 322.8,271.1 323.9,271.1 323.9,268.4 325.0,268.4 325.0,265.8 328.9,265.8 328.9,263.1 332.8,263.1 332.8,261.8 338.1,261.8 338.1,259.9 342.0,259.9 342.0,257.9 343.4,257.9 343.4,255.9 361.8,255.9 363.1,255.9 363.1,254.6" fill="none" stroke="#bcbcbc" stroke-width="1.85" stroke-linejoin="miter" stroke-linecap="butt"/>
<polyline points="297.3,335.1 297.9,335.1 297.9,332.6 298.4,332.6 298.4,330.0 301.0,330.0 305.3,330.0 305.3,328.9 308.5,328.9 308.5,326.7 311.7,326.7 311.7,323.5 315.0,323.5 315.0,320.3 318.2,320.3 318.2,317.1 321.4,317.1 321.4,313.9 322.4,313.9 322.4,311.2 323.5,311.2 323.5,308.5 324.1,308.5 324.1,305.9 324.6,305.9 324.6,303.2 325.1,303.2 325.1,301.0 325.7,301.0 325.7,298.9 326.8,298.9 326.8,296.2 327.8,296.2 327.8,293.6 328.6,293.6 328.6,291.5 329.4,291.5 329.4,289.3 329.9,289.3 329.9,286.8 330.5,286.8 330.5,284.2 332.4,284.2 332.4,282.2 334.2,282.2 334.2,280.2 334.5,280.2 334.5,277.2 334.8,277.2 334.8,274.3 338.1,274.3 338.1,271.0 338.8,271.0 338.8,268.4 339.4,268.4 339.4,265.8 342.0,265.8 342.0,263.1 343.4,263.1 343.4,260.5 344.7,260.5 344.7,257.9 346.0,257.9 346.0,255.9 351.2,255.9 351.2,255.3 352.6,255.3 352.6,254.5" fill="none" stroke="#cf5a70" stroke-width="1.85" stroke-linejoin="miter" stroke-linecap="butt"/>
<polyline points="298.4,335.1 298.6,335.1 298.6,332.7 298.7,332.7 298.7,330.2 298.9,330.2 298.9,327.8 302.1,327.8 302.1,327.3 306.4,327.3 306.4,325.7 310.7,325.7 310.7,322.5 313.9,322.5 313.9,320.3 317.1,320.3 317.1,317.1 318.7,317.1 318.7,315.0 320.3,315.0 320.3,312.8 321.4,312.8 321.4,310.7 322.4,310.7 322.4,308.5 323.5,308.5 323.5,306.4 325.7,306.4 325.7,303.2 327.8,303.2 327.8,300.0 328.9,300.0 328.9,297.9 329.9,297.9 329.9,295.7 332.1,295.7 332.1,292.5 334.8,292.5 334.8,289.3 336.5,289.3 336.5,286.8 338.1,286.8 338.1,284.2 342.0,284.2 342.0,281.5 343.4,281.5 343.4,278.9 344.7,278.9 344.7,276.3 346.6,276.3 346.6,273.6 348.6,273.6 348.6,271.0 349.9,271.0 349.9,268.4 351.2,268.4 351.2,265.8 352.5,265.8 352.5,263.1 353.9,263.1 353.9,260.5 355.2,260.5 355.2,258.5 372.3,258.5 372.3,257.9 373.6,257.9 373.6,255.3 374.2,255.3 374.2,254.6" fill="none" stroke="#6cc4ee" stroke-width="1.85" stroke-linejoin="miter" stroke-linecap="butt"/>
<line x1="268.00" y1="253.75" x2="268.00" y2="335.95" stroke="#262626" stroke-width="1.5" stroke-linecap="butt"/>
<line x1="260.00" y1="254.50" x2="268.00" y2="254.50" stroke="#262626" stroke-width="1.5" stroke-linecap="butt"/>
<text font-size="9.3" text-anchor="end" fill="#262626" transform="translate(255.00 257.70) scale(1 1.04)">1.00</text>
<line x1="260.00" y1="274.68" x2="268.00" y2="274.68" stroke="#262626" stroke-width="1.5" stroke-linecap="butt"/>
<text font-size="9.3" text-anchor="end" fill="#262626" transform="translate(255.00 277.88) scale(1 1.04)">0.75</text>
<line x1="260.00" y1="294.85" x2="268.00" y2="294.85" stroke="#262626" stroke-width="1.5" stroke-linecap="butt"/>
<text font-size="9.3" text-anchor="end" fill="#262626" transform="translate(255.00 298.05) scale(1 1.04)">0.50</text>
<line x1="260.00" y1="315.02" x2="268.00" y2="315.02" stroke="#262626" stroke-width="1.5" stroke-linecap="butt"/>
<text font-size="9.3" text-anchor="end" fill="#262626" transform="translate(255.00 318.22) scale(1 1.04)">0.25</text>
<line x1="260.00" y1="335.20" x2="268.00" y2="335.20" stroke="#262626" stroke-width="1.5" stroke-linecap="butt"/>
<text font-size="9.3" text-anchor="end" fill="#262626" transform="translate(255.00 338.40) scale(1 1.04)">0.00</text>
<line x1="267.25" y1="335.20" x2="392.10" y2="335.20" stroke="#262626" stroke-width="1.5" stroke-linecap="butt"/>
<line x1="289.10" y1="335.20" x2="289.10" y2="343.20" stroke="#262626" stroke-width="1.5" stroke-linecap="butt"/>
<text font-size="9.3" text-anchor="middle" fill="#262626" transform="translate(289.10 354.70) scale(1 1.04)">4</text>
<line x1="331.00" y1="335.20" x2="331.00" y2="343.20" stroke="#262626" stroke-width="1.5" stroke-linecap="butt"/>
<text font-size="9.3" text-anchor="middle" fill="#262626" transform="translate(331.00 354.70) scale(1 1.04)">6</text>
<line x1="372.90" y1="335.20" x2="372.90" y2="343.20" stroke="#262626" stroke-width="1.5" stroke-linecap="butt"/>
<text font-size="9.3" text-anchor="middle" fill="#262626" transform="translate(372.90 354.70) scale(1 1.04)">8</text>
<text font-size="9.2" text-anchor="start" fill="#3aa88c" transform="translate(394.50 273.80)" letter-spacing="0.25">***</text>
<text font-size="9.2" text-anchor="start" fill="#fb8458" transform="translate(394.50 281.80)" letter-spacing="0.25">***</text>
<text font-size="9.2" text-anchor="start" fill="#bcbcbc" transform="translate(394.50 289.80)" letter-spacing="0.25">**</text>
<text font-size="7.7" text-anchor="start" fill="#e3c55c" font-style="italic" transform="translate(394.50 294.80)" textLength="7.6" lengthAdjust="spacingAndGlyphs">ns</text>
<text font-size="7.7" text-anchor="start" fill="#cf5a70" font-style="italic" transform="translate(394.50 302.80)" textLength="7.6" lengthAdjust="spacingAndGlyphs">ns</text>
<text font-size="7.7" text-anchor="start" fill="#6cc4ee" font-style="italic" transform="translate(394.50 310.80)" textLength="7.6" lengthAdjust="spacingAndGlyphs">ns</text>
<polyline points="99.0,464.9 99.1,464.9 99.1,463.7 99.7,463.7 99.7,461.5 100.3,461.5 100.3,459.4 100.9,459.4 100.9,457.2 101.7,457.2 101.7,454.8 102.5,454.8 102.5,452.5 103.3,452.5 103.3,450.1 104.4,450.1 104.4,447.1 105.6,447.1 105.6,444.1 106.8,444.1 106.8,441.1 108.0,441.1 108.0,438.2 109.2,438.2 109.2,435.2 110.4,435.2 110.4,432.3 111.0,432.3 111.0,429.3 111.6,429.3 111.6,426.3 112.2,426.3 112.2,423.4 112.8,423.4 112.8,420.4 113.9,420.4 113.9,416.9 115.1,416.9 115.1,414.5 115.5,414.5 115.5,412.1 115.9,412.1 115.9,409.8 116.3,409.8 116.3,407.4 119.4,407.4 119.4,405.7 122.9,405.7 122.9,403.0 124.0,403.0 124.0,400.2 125.0,400.2 125.0,397.4 126.0,397.4 126.0,395.4 127.0,395.4 127.0,393.3 129.1,393.3 129.1,391.2 131.2,391.2 131.2,389.1 133.3,389.1 133.3,387.7 136.1,387.7 136.1,385.6 143.0,385.6 144.4,385.6 144.4,384.0" fill="none" stroke="#3aa88c" stroke-width="1.85" stroke-linejoin="miter" stroke-linecap="butt"/>
<polyline points="78.5,464.9 79.0,464.9 79.0,463.7 80.2,463.7 80.2,461.6 81.3,461.6 81.3,459.5 83.1,459.5 83.1,457.2 84.3,457.2 84.3,454.8 85.5,454.8 85.5,452.4 87.3,452.4 87.3,448.9 89.0,448.9 89.0,445.3 89.9,445.3 89.9,443.0 90.8,443.0 90.8,440.6 91.7,440.6 91.7,438.8 92.6,438.8 92.6,437.0 95.0,437.0 95.0,434.6 95.6,434.6 95.6,432.2 96.2,432.2 96.2,429.9 96.8,429.9 96.8,427.5 97.3,427.5 97.3,425.2 97.9,425.2 97.9,422.8 98.5,422.8 98.5,420.4 99.1,420.4 99.1,418.0 99.7,418.0 99.7,415.7 101.5,415.7 101.5,413.3 102.4,413.3 102.4,411.5 103.3,411.5 103.3,409.7 103.8,409.7 103.8,407.5 104.4,407.5 104.4,405.2 104.9,405.2 104.9,403.0 105.6,403.0 105.6,400.9 106.2,400.9 106.2,398.8 107.2,398.8 107.2,396.7 108.3,396.7 108.3,394.6 110.4,394.6 110.4,391.2 113.9,391.2 113.9,389.8 118.0,389.8 118.0,387.7 120.8,387.7 120.8,386.3 131.9,386.3 131.9,385.6 135.4,385.6 135.4,384.0" fill="none" stroke="#fb8458" stroke-width="1.85" stroke-linejoin="miter" stroke-linecap="butt"/>
<polyline points="80.0,464.9 80.7,464.9 80.7,463.7 85.5,463.7 85.5,460.7 87.9,460.7 87.9,457.8 91.4,457.8 91.4,457.2 92.6,457.2 92.6,454.8 93.8,454.8 93.8,452.4 94.4,452.4 94.4,450.0 95.0,450.0 95.0,447.7 97.3,447.7 97.3,444.1 98.5,444.1 98.5,441.1 99.7,441.1 99.7,438.2 100.6,438.2 100.6,435.2 101.5,435.2 101.5,432.3 103.0,432.3 103.0,429.9 104.5,429.9 104.5,427.5 106.8,427.5 106.8,424.0 107.4,424.0 107.4,421.6 108.0,421.6 108.0,419.2 108.6,419.2 108.6,416.9 109.2,416.9 109.2,414.5 109.8,414.5 109.8,412.1 110.4,412.1 110.4,409.7 111.0,409.7 111.0,407.4 111.6,407.4 111.6,405.0 111.7,405.0 111.7,402.5 111.7,402.5 111.7,399.9 111.8,399.9 111.8,397.4 113.9,397.4 113.9,396.0 116.6,396.0 116.6,394.6 118.0,394.6 118.0,391.9 122.2,391.9 122.2,390.5 125.0,390.5 125.0,389.1 127.7,389.1 127.7,387.7 129.8,387.7 129.8,385.6 131.2,385.6 131.2,384.0" fill="none" stroke="#e3c55c" stroke-width="1.85" stroke-linejoin="miter" stroke-linecap="butt"/>
<polyline points="82.0,464.9 83.1,463.7 87.9,460.7 92.6,459.0 96.2,456.0 99.7,450.1 103.3,445.3 105.6,439.4 108.0,434.6 110.4,429.9 112.8,425.2 115.1,420.4 118.7,415.7 122.2,411.5 125.8,407.4 129.1,401.6 133.3,396.0 136.1,393.3 140.2,389.8 143.0,387.7 147.2,386.3 169.3,385.6 173.5,384.9 190.2,384.2" fill="none" stroke="#000000" stroke-width="2.0" stroke-linejoin="miter" stroke-linecap="butt"/>
<polyline points="96.5,464.9 97.3,464.9 97.3,463.7 102.1,463.7 102.1,461.9 103.8,461.9 103.8,459.5 105.6,459.5 105.6,457.2 106.8,457.2 106.8,454.2 108.0,454.2 108.0,451.2 109.8,451.2 109.8,448.2 111.6,448.2 111.6,445.3 112.8,445.3 112.8,442.4 113.9,442.4 113.9,439.4 115.1,439.4 115.1,436.4 116.3,436.4 116.3,433.5 116.9,433.5 116.9,431.1 117.5,431.1 117.5,428.7 119.9,428.7 119.9,425.2 122.2,425.2 122.2,424.0 122.8,424.0 122.8,422.2 123.4,422.2 123.4,420.4 124.6,420.4 124.6,418.0 125.8,418.0 125.8,415.7 127.0,415.7 127.0,413.3 128.2,413.3 128.2,410.9 130.5,410.9 130.5,407.4 133.0,407.4 133.0,405.0 134.0,405.0 134.0,404.4 134.7,404.4 134.7,402.1 135.4,402.1 135.4,399.7 136.1,399.7 136.1,397.4 137.4,397.4 137.4,395.4 138.8,395.4 138.8,393.3 141.6,393.3 141.6,390.5 144.4,390.5 144.4,387.7 147.2,387.7 147.2,386.3 169.3,386.3 169.3,384.9 172.1,384.9 172.1,384.2" fill="none" stroke="#bcbcbc" stroke-width="1.85" stroke-linejoin="miter" stroke-linecap="butt"/>
<polyline points="105.5,464.9 105.6,464.9 105.6,463.7 106.2,463.7 106.2,461.0 106.8,461.0 106.8,458.4 109.2,458.4 109.2,454.8 111.0,454.8 111.0,453.0 112.8,453.0 112.8,451.2 115.1,451.2 115.1,447.7 117.5,447.7 117.5,444.1 118.7,444.1 118.7,441.8 119.9,441.8 119.9,439.4 121.1,439.4 121.1,436.4 122.2,436.4 122.2,433.5 123.1,433.5 123.1,430.5 124.0,430.5 124.0,427.5 124.6,427.5 124.6,425.1 125.2,425.1 125.2,422.8 125.8,422.8 125.8,420.4 127.0,420.4 127.0,416.9 128.2,416.9 128.2,414.5 130.5,414.5 130.5,412.1 131.7,412.1 131.7,409.8 132.9,409.8 132.9,407.4 134.7,407.4 134.7,405.0 135.4,405.0 135.4,402.6 136.1,402.6 136.1,400.2 137.4,400.2 137.4,398.1 138.8,398.1 138.8,396.0 141.6,396.0 141.6,393.3 145.8,393.3 145.8,391.9 146.5,391.9 146.5,389.8 147.2,389.8 147.2,387.7 148.5,387.7 148.5,386.3 172.1,386.3 173.5,386.3 173.5,384.2" fill="none" stroke="#cf5a70" stroke-width="1.85" stroke-linejoin="miter" stroke-linecap="butt"/>
<polyline points="91.0,464.9 91.4,464.9 91.4,463.7 95.0,463.7 95.0,460.7 96.8,460.7 96.8,458.4 98.5,458.4 98.5,456.0 102.1,456.0 102.1,453.6 106.8,453.6 106.8,450.1 109.2,450.1 109.2,448.3 111.6,448.3 111.6,446.5 115.1,446.5 115.1,444.1 117.5,444.1 117.5,440.6 118.7,440.6 118.7,438.2 119.9,438.2 119.9,435.8 121.1,435.8 121.1,433.5 122.2,433.5 122.2,431.1 123.4,431.1 123.4,428.7 124.6,428.7 124.6,426.3 125.8,426.3 125.8,424.0 127.0,424.0 127.0,421.6 128.2,421.6 128.2,419.8 129.4,419.8 129.4,418.0 131.7,418.0 131.7,414.5 132.9,414.5 132.9,412.1 134.1,412.1 134.1,409.7 135.1,409.7 135.1,407.7 136.1,407.7 136.1,405.7 137.4,405.7 137.4,403.6 138.8,403.6 138.8,401.6 141.6,401.6 141.6,398.8 144.4,398.8 144.4,396.0 148.5,396.0 148.5,394.6 152.7,394.6 152.7,393.3 161.0,393.3 161.0,392.6 162.4,392.6 162.4,391.2 186.0,391.2 186.0,390.5 187.4,390.5 187.4,387.7 190.2,387.7 190.2,386.3 191.5,386.3 191.5,384.0" fill="none" stroke="#6cc4ee" stroke-width="1.85" stroke-linejoin="miter" stroke-linecap="butt"/>
<line x1="73.80" y1="383.25" x2="73.80" y2="465.65" stroke="#262626" stroke-width="1.5" stroke-linecap="butt"/>
<line x1="65.80" y1="384.00" x2="73.80" y2="384.00" stroke="#262626" stroke-width="1.5" stroke-linecap="butt"/>
<text font-size="9.3" text-anchor="end" fill="#262626" transform="translate(60.80 387.20) scale(1 1.04)">1.00</text>
<line x1="65.80" y1="404.23" x2="73.80" y2="404.23" stroke="#262626" stroke-width="1.5" stroke-linecap="butt"/>
<text font-size="9.3" text-anchor="end" fill="#262626" transform="translate(60.80 407.43) scale(1 1.04)">0.75</text>
<line x1="65.80" y1="424.45" x2="73.80" y2="424.45" stroke="#262626" stroke-width="1.5" stroke-linecap="butt"/>
<text font-size="9.3" text-anchor="end" fill="#262626" transform="translate(60.80 427.65) scale(1 1.04)">0.50</text>
<line x1="65.80" y1="444.67" x2="73.80" y2="444.67" stroke="#262626" stroke-width="1.5" stroke-linecap="butt"/>
<text font-size="9.3" text-anchor="end" fill="#262626" transform="translate(60.80 447.87) scale(1 1.04)">0.25</text>
<line x1="65.80" y1="464.90" x2="73.80" y2="464.90" stroke="#262626" stroke-width="1.5" stroke-linecap="butt"/>
<text font-size="9.3" text-anchor="end" fill="#262626" transform="translate(60.80 468.10) scale(1 1.04)">0.00</text>
<line x1="73.05" y1="464.90" x2="197.30" y2="464.90" stroke="#262626" stroke-width="1.5" stroke-linecap="butt"/>
<line x1="81.50" y1="464.90" x2="81.50" y2="472.90" stroke="#262626" stroke-width="1.5" stroke-linecap="butt"/>
<text font-size="9.3" text-anchor="middle" fill="#262626" transform="translate(81.50 484.40) scale(1 1.04)">2500</text>
<line x1="113.90" y1="464.90" x2="113.90" y2="472.90" stroke="#262626" stroke-width="1.5" stroke-linecap="butt"/>
<text font-size="9.3" text-anchor="middle" fill="#262626" transform="translate(113.90 484.40) scale(1 1.04)">5000</text>
<line x1="146.40" y1="464.90" x2="146.40" y2="472.90" stroke="#262626" stroke-width="1.5" stroke-linecap="butt"/>
<text font-size="9.3" text-anchor="middle" fill="#262626" transform="translate(146.40 484.40) scale(1 1.04)">7500</text>
<line x1="178.80" y1="464.90" x2="178.80" y2="472.90" stroke="#262626" stroke-width="1.5" stroke-linecap="butt"/>
<text font-size="9.3" text-anchor="middle" fill="#262626" transform="translate(178.80 484.40) scale(1 1.04)">10000</text>
<text font-size="7.7" text-anchor="start" fill="#3aa88c" font-style="italic" transform="translate(199.00 400.30)" textLength="7.6" lengthAdjust="spacingAndGlyphs">ns</text>
<text font-size="9.2" text-anchor="start" fill="#fb8458" transform="translate(199.00 411.30)" letter-spacing="0.25">***</text>
<text font-size="9.2" text-anchor="start" fill="#bcbcbc" transform="translate(199.00 419.30)" letter-spacing="0.25">*</text>
<text font-size="9.2" text-anchor="start" fill="#e3c55c" transform="translate(199.00 427.30)" letter-spacing="0.25">**</text>
<text font-size="9.2" text-anchor="start" fill="#cf5a70" transform="translate(199.00 435.30)" letter-spacing="0.25">**</text>
<text font-size="9.2" text-anchor="start" fill="#6cc4ee" transform="translate(199.00 443.30)" letter-spacing="0.25">**</text>
<polyline points="276.0,464.9 282.9,464.9 282.9,463.4 288.0,463.4 288.0,462.5 293.1,462.5 293.1,461.5 295.0,461.5 295.0,460.4 296.0,460.4 296.0,458.4 297.0,458.4 297.0,456.5 298.2,456.5 298.2,453.9 299.5,453.9 299.5,451.4 300.8,451.4 300.8,448.8 302.1,448.8 302.1,446.2 303.0,446.2 303.0,444.1 303.8,444.1 303.8,441.9 304.7,441.9 304.7,439.8 305.5,439.8 305.5,437.7 306.4,437.7 306.4,435.5 307.2,435.5 307.2,433.4 308.5,433.4 308.5,430.9 309.8,430.9 309.8,428.3 310.7,428.3 310.7,426.1 311.5,426.1 311.5,424.0 312.4,424.0 312.4,421.8 313.3,421.8 313.3,419.7 314.1,419.7 314.1,417.5 315.0,417.5 315.0,415.4 317.5,415.4 317.5,412.8 319.4,412.8 319.4,410.9 321.4,410.9 321.4,409.0 322.5,409.0 322.5,405.5 324.5,405.5 324.5,402.5 325.6,402.5 325.6,400.4 326.6,400.4 326.6,398.4 328.6,398.4 328.6,395.3 330.7,395.3 330.7,392.3 332.7,392.3 332.7,389.2 333.7,389.2 333.7,386.1 334.7,386.1 334.7,384.1" fill="none" stroke="#3aa88c" stroke-width="1.85" stroke-linejoin="miter" stroke-linecap="butt"/>
<polyline points="280.0,464.9 284.4,464.9 284.4,463.4 287.4,463.4 287.4,461.9 288.4,461.9 288.4,459.9 289.5,459.9 289.5,458.0 290.0,458.0 290.0,455.9 290.5,455.9 290.5,453.9 291.2,453.9 291.2,451.3 291.8,451.3 291.8,448.8 292.5,448.8 292.5,446.2 293.4,446.2 293.4,443.6 294.4,443.6 294.4,441.1 295.4,441.1 295.4,438.6 296.3,438.6 296.3,436.0 297.3,436.0 297.3,433.4 298.3,433.4 298.3,430.8 299.2,430.8 299.2,428.2 300.2,428.2 300.2,425.7 300.8,425.7 300.8,423.6 301.5,423.6 301.5,421.4 302.1,421.4 302.1,419.3 304.7,419.3 304.7,418.0 305.6,418.0 305.6,415.1 306.6,415.1 306.6,412.2 311.1,412.2 311.1,410.3 312.2,410.3 312.2,407.9 313.3,407.9 313.3,405.5 314.3,405.5 314.3,402.9 315.3,402.9 315.3,400.4 315.8,400.4 315.8,397.9 316.3,397.9 316.3,395.3 316.9,395.3 316.9,393.2 317.4,393.2 317.4,391.2 318.4,391.2 318.4,390.2 322.5,390.2 322.5,389.2 324.5,389.2 324.5,388.2 327.6,388.2 327.6,387.2 328.6,387.2 328.6,385.6 330.7,385.6 330.7,385.1 331.7,385.1 331.7,384.1" fill="none" stroke="#fb8458" stroke-width="1.85" stroke-linejoin="miter" stroke-linecap="butt"/>
<polyline points="280.0,464.9 284.0,464.9 284.0,464.0 286.7,464.0 286.7,461.6 289.3,461.6 289.3,459.1 293.1,459.1 293.1,456.5 294.4,456.5 294.4,453.9 295.7,453.9 295.7,451.4 296.6,451.4 296.6,448.8 297.4,448.8 297.4,446.3 298.3,446.3 298.3,443.7 299.1,443.7 299.1,441.5 300.0,441.5 300.0,439.4 300.8,439.4 300.8,437.2 301.7,437.2 301.7,435.1 302.5,435.1 302.5,432.9 303.4,432.9 303.4,430.8 304.7,430.8 304.7,428.2 306.0,428.2 306.0,425.7 307.2,425.7 307.2,423.8 308.5,423.8 308.5,421.8 309.8,421.8 309.8,419.2 311.1,419.2 311.1,416.7 312.4,416.7 312.4,414.8 313.7,414.8 313.7,412.8 314.9,412.8 314.9,410.9 316.2,410.9 316.2,409.0 317.5,409.0 317.5,406.4 318.8,406.4 318.8,403.9 319.9,403.9 319.9,400.4 320.7,400.4 320.7,398.4 321.5,398.4 321.5,396.3 323.5,396.3 323.5,393.3 325.5,393.3 325.5,391.2 327.6,391.2 327.6,390.2 329.6,390.2 329.6,388.2 332.7,388.2 332.7,387.2 335.3,387.2 335.3,386.1 338.8,386.1 338.8,385.6 340.9,385.6 340.9,384.1" fill="none" stroke="#e3c55c" stroke-width="1.85" stroke-linejoin="miter" stroke-linecap="butt"/>
<polyline points="277.0,464.9 279.0,463.6 282.8,462.3 286.7,460.4 290.5,457.8 294.4,453.9 297.0,450.1 299.5,443.7 302.1,438.5 304.7,432.1 307.2,425.7 309.8,420.5 312.4,415.4 315.0,410.3 317.5,405.1 320.1,400.0 323.5,399.0 326.6,397.4 329.6,395.3 331.7,392.3 333.7,390.2 335.8,388.2 338.8,387.7 342.9,386.1 348.0,384.6 354.2,384.1 384.6,384.1" fill="none" stroke="#000000" stroke-width="2.0" stroke-linejoin="miter" stroke-linecap="butt"/>
<polyline points="274.5,464.9 275.1,464.9 275.1,462.6 275.8,462.6 275.8,460.4 279.0,460.4 279.0,457.8 284.1,457.8 284.1,456.5 289.3,456.5 290.2,456.5 290.2,453.9 291.2,453.9 291.2,451.4 292.5,451.4 292.5,448.8 293.8,448.8 293.8,446.2 294.8,446.2 294.8,443.6 295.7,443.6 295.7,441.1 297.0,441.1 297.0,438.6 298.3,438.6 298.3,436.0 299.6,436.0 299.6,433.4 300.8,433.4 300.8,430.8 302.1,430.8 302.1,428.2 303.4,428.2 303.4,425.7 304.3,425.7 304.3,423.6 305.1,423.6 305.1,421.4 306.0,421.4 306.0,419.3 307.2,419.3 307.2,417.4 308.5,417.4 308.5,415.4 311.1,415.4 311.1,412.8 312.7,412.8 312.7,410.2 314.3,410.2 314.3,407.7 315.3,407.7 315.3,405.6 316.3,405.6 316.3,403.5 317.1,403.5 317.1,401.4 317.9,401.4 317.9,399.4 321.5,399.4 321.5,398.4 323.5,398.4 323.5,396.3 325.5,396.3 325.5,394.3 328.6,394.3 328.6,393.3 330.7,393.3 330.7,392.3 331.7,392.3 331.7,390.2 332.7,390.2 332.7,388.2 335.8,388.2 335.8,387.2 340.9,387.2 340.9,386.6 342.9,386.6 342.9,385.6 347.0,385.6 347.0,384.6 353.1,384.6 353.1,384.1" fill="none" stroke="#bcbcbc" stroke-width="1.85" stroke-linejoin="miter" stroke-linecap="butt"/>
<polyline points="283.0,464.9 284.1,464.9 284.1,463.6 289.3,463.6 289.3,462.9 294.4,462.9 294.4,460.4 295.7,460.4 295.7,458.4 297.0,458.4 297.0,456.5 297.9,456.5 297.9,453.9 298.9,453.9 298.9,451.4 299.9,451.4 299.9,448.8 300.8,448.8 300.8,446.2 302.1,446.2 302.1,443.6 303.4,443.6 303.4,441.1 304.0,441.1 304.0,438.9 304.7,438.9 304.7,436.6 305.4,436.6 305.4,434.4 306.0,434.4 306.0,432.1 306.8,432.1 306.8,429.5 307.7,429.5 307.7,427.0 308.5,427.0 308.5,424.4 308.9,424.4 308.9,422.3 309.4,422.3 309.4,420.1 309.8,420.1 309.8,418.0 311.1,418.0 311.1,415.4 312.4,415.4 312.4,412.8 316.2,412.8 316.2,410.3 318.8,410.3 318.8,407.7 320.4,407.7 320.4,404.5 322.5,404.5 322.5,401.5 325.5,401.5 325.5,399.4 331.7,399.4 331.7,398.4 332.4,398.4 332.4,395.9 333.2,395.9 333.2,393.3 334.7,393.3 334.7,390.2 345.0,390.2 346.5,390.2 346.5,388.7 350.1,388.7 350.1,388.2 352.1,388.2 352.1,386.6 353.1,386.6 353.1,385.9 386.3,385.9 386.3,385.9 386.3,384.2" fill="none" stroke="#cf5a70" stroke-width="1.85" stroke-linejoin="miter" stroke-linecap="butt"/>
<polyline points="271.5,464.9 272.6,464.9 272.6,463.6 277.7,463.6 277.7,460.4 280.9,460.4 280.9,457.8 284.1,457.8 284.1,455.2 290.5,455.2 290.5,453.9 294.4,453.9 294.4,452.7 297.0,452.7 297.0,450.1 298.9,450.1 298.9,448.1 300.8,448.1 300.8,446.2 302.8,446.2 302.8,444.3 304.7,444.3 304.7,442.4 306.6,442.4 306.6,440.4 308.5,440.4 308.5,438.5 310.4,438.5 310.4,435.9 312.4,435.9 312.4,433.4 314.9,433.4 314.9,431.4 317.5,431.4 317.5,429.5 319.4,429.5 319.4,426.9 321.4,426.9 321.4,424.4 323.3,424.4 323.3,421.9 325.2,421.9 325.2,419.3 327.8,419.3 327.8,417.4 330.4,417.4 330.4,415.4 330.9,415.4 330.9,413.4 331.5,413.4 331.5,411.3 332.0,411.3 332.0,409.3 333.0,409.3 333.0,406.9 334.0,406.9 334.0,404.5 334.8,404.5 334.8,402.4 335.5,402.4 335.5,400.4 336.8,400.4 336.8,398.4 338.8,398.4 338.8,396.3 340.9,396.3 340.9,393.3 342.9,393.3 342.9,391.2 345.0,391.2 345.0,389.2 347.0,389.2 347.0,387.7 351.1,387.7 351.1,386.1 355.2,386.1 355.2,385.1 356.2,385.1 356.2,384.1" fill="none" stroke="#6cc4ee" stroke-width="1.85" stroke-linejoin="miter" stroke-linecap="butt"/>
<line x1="268.00" y1="383.25" x2="268.00" y2="465.65" stroke="#262626" stroke-width="1.5" stroke-linecap="butt"/>
<line x1="260.00" y1="384.00" x2="268.00" y2="384.00" stroke="#262626" stroke-width="1.5" stroke-linecap="butt"/>
<text font-size="9.3" text-anchor="end" fill="#262626" transform="translate(255.00 387.20) scale(1 1.04)">1.00</text>
<line x1="260.00" y1="404.23" x2="268.00" y2="404.23" stroke="#262626" stroke-width="1.5" stroke-linecap="butt"/>
<text font-size="9.3" text-anchor="end" fill="#262626" transform="translate(255.00 407.43) scale(1 1.04)">0.75</text>
<line x1="260.00" y1="424.45" x2="268.00" y2="424.45" stroke="#262626" stroke-width="1.5" stroke-linecap="butt"/>
<text font-size="9.3" text-anchor="end" fill="#262626" transform="translate(255.00 427.65) scale(1 1.04)">0.50</text>
<line x1="260.00" y1="444.67" x2="268.00" y2="444.67" stroke="#262626" stroke-width="1.5" stroke-linecap="butt"/>
<text font-size="9.3" text-anchor="end" fill="#262626" transform="translate(255.00 447.87) scale(1 1.04)">0.25</text>
<line x1="260.00" y1="464.90" x2="268.00" y2="464.90" stroke="#262626" stroke-width="1.5" stroke-linecap="butt"/>
<text font-size="9.3" text-anchor="end" fill="#262626" transform="translate(255.00 468.10) scale(1 1.04)">0.00</text>
<line x1="267.25" y1="464.90" x2="392.10" y2="464.90" stroke="#262626" stroke-width="1.5" stroke-linecap="butt"/>
<line x1="296.40" y1="464.90" x2="296.40" y2="472.90" stroke="#262626" stroke-width="1.5" stroke-linecap="butt"/>
<text font-size="9.3" text-anchor="middle" fill="#262626" transform="translate(296.40 484.40) scale(1 1.04)">2</text>
<line x1="356.30" y1="464.90" x2="356.30" y2="472.90" stroke="#262626" stroke-width="1.5" stroke-linecap="butt"/>
<text font-size="9.3" text-anchor="middle" fill="#262626" transform="translate(356.30 484.40) scale(1 1.04)">4</text>
<text font-size="7.7" text-anchor="start" fill="#3aa88c" font-style="italic" transform="translate(393.00 400.30)" textLength="7.6" lengthAdjust="spacingAndGlyphs">ns</text>
<text font-size="7.7" text-anchor="start" fill="#fb8458" font-style="italic" transform="translate(393.00 408.30)" textLength="7.6" lengthAdjust="spacingAndGlyphs">ns</text>
<text font-size="7.7" text-anchor="start" fill="#bcbcbc" font-style="italic" transform="translate(393.00 416.30)" textLength="7.6" lengthAdjust="spacingAndGlyphs">ns</text>
<text font-size="7.7" text-anchor="start" fill="#e3c55c" font-style="italic" transform="translate(393.00 424.30)" textLength="7.6" lengthAdjust="spacingAndGlyphs">ns</text>
<text font-size="7.7" text-anchor="start" fill="#cf5a70" font-style="italic" transform="translate(393.00 432.30)" textLength="7.6" lengthAdjust="spacingAndGlyphs">ns</text>
<text font-size="9.2" text-anchor="start" fill="#6cc4ee" transform="translate(393.00 443.30)" letter-spacing="0.25">*</text>
<text font-size="9.4" text-anchor="middle" fill="#262626" font-weight="bold" transform="translate(26.90 40.20) rotate(-90) scale(1 1.04)">NA</text>
<text font-size="9.3" text-anchor="middle" fill="#262626" transform="translate(35.00 44.80) rotate(-90) scale(1 1.04)">Proportion</text>
<text font-size="9.4" text-anchor="middle" fill="#262626" font-weight="bold" transform="translate(26.90 165.10) rotate(-90) scale(1 1.04)">PCL2</text>
<text font-size="9.3" text-anchor="middle" fill="#262626" transform="translate(35.00 166.60) rotate(-90) scale(1 1.04)">Proportion</text>
<text font-size="9.4" text-anchor="middle" fill="#262626" font-weight="bold" transform="translate(26.90 292.20) rotate(-90) scale(1 1.04)">PCM1</text>
<text font-size="9.3" text-anchor="middle" fill="#262626" transform="translate(35.00 294.50) rotate(-90) scale(1 1.04)">Proportion</text>
<text font-size="9.4" text-anchor="middle" fill="#262626" font-weight="bold" transform="translate(26.90 421.40) rotate(-90) scale(1 1.04)">PCM2</text>
<text font-size="9.3" text-anchor="middle" fill="#262626" transform="translate(35.00 424.20) rotate(-90) scale(1 1.04)">Proportion</text>
<text font-size="9.3" text-anchor="middle" fill="#262626" transform="translate(230.00 166.90) rotate(-90) scale(1 1.04)">Proportion</text>
<text font-size="9.3" text-anchor="middle" fill="#262626" transform="translate(230.00 294.80) rotate(-90) scale(1 1.04)">Proportion</text>
<text font-size="9.3" text-anchor="middle" fill="#262626" transform="translate(230.00 424.50) rotate(-90) scale(1 1.04)">Proportion</text>
<text font-size="9.3" text-anchor="middle" fill="#262626" transform="translate(7.60 223.10) rotate(-90) scale(1 1.04)">mCherry Promoter</text>
<text font-size="9.3" text-anchor="middle" fill="#262626" transform="translate(135.80 497.60) scale(1 1.04)">eGFP</text>
<text font-size="9.3" text-anchor="middle" fill="#262626" transform="translate(329.40 498.40) scale(1 1.04)">eGFP/mCherry</text>
<text font-size="9.5" text-anchor="start" fill="#262626" font-weight="bold" transform="translate(0.00 6.60) scale(1 1.04)">A</text>
<line x1="465.00" y1="3.65" x2="465.00" y2="208.35" stroke="#262626" stroke-width="1.5" stroke-linecap="butt"/>
<line x1="457.00" y1="207.60" x2="465.00" y2="207.60" stroke="#262626" stroke-width="1.5" stroke-linecap="butt"/>
<text font-size="9.3" text-anchor="end" fill="#262626" transform="translate(452.60 210.80) scale(1 1.04)">0.0</text>
<line x1="457.00" y1="182.20" x2="465.00" y2="182.20" stroke="#262626" stroke-width="1.5" stroke-linecap="butt"/>
<text font-size="9.3" text-anchor="end" fill="#262626" transform="translate(452.60 185.40) scale(1 1.04)">0.1</text>
<line x1="457.00" y1="156.80" x2="465.00" y2="156.80" stroke="#262626" stroke-width="1.5" stroke-linecap="butt"/>
<text font-size="9.3" text-anchor="end" fill="#262626" transform="translate(452.60 160.00) scale(1 1.04)">0.2</text>
<line x1="457.00" y1="131.40" x2="465.00" y2="131.40" stroke="#262626" stroke-width="1.5" stroke-linecap="butt"/>
<text font-size="9.3" text-anchor="end" fill="#262626" transform="translate(452.60 134.60) scale(1 1.04)">0.3</text>
<line x1="457.00" y1="106.00" x2="465.00" y2="106.00" stroke="#262626" stroke-width="1.5" stroke-linecap="butt"/>
<text font-size="9.3" text-anchor="end" fill="#262626" transform="translate(452.60 109.20) scale(1 1.04)">0.4</text>
<line x1="457.00" y1="80.60" x2="465.00" y2="80.60" stroke="#262626" stroke-width="1.5" stroke-linecap="butt"/>
<text font-size="9.3" text-anchor="end" fill="#262626" transform="translate(452.60 83.80) scale(1 1.04)">0.5</text>
<line x1="457.00" y1="55.20" x2="465.00" y2="55.20" stroke="#262626" stroke-width="1.5" stroke-linecap="butt"/>
<text font-size="9.3" text-anchor="end" fill="#262626" transform="translate(452.60 58.40) scale(1 1.04)">0.6</text>
<line x1="457.00" y1="29.80" x2="465.00" y2="29.80" stroke="#262626" stroke-width="1.5" stroke-linecap="butt"/>
<text font-size="9.3" text-anchor="end" fill="#262626" transform="translate(452.60 33.00) scale(1 1.04)">0.7</text>
<line x1="457.00" y1="4.40" x2="465.00" y2="4.40" stroke="#262626" stroke-width="1.5" stroke-linecap="butt"/>
<text font-size="9.3" text-anchor="end" fill="#262626" transform="translate(452.60 7.60) scale(1 1.04)">0.8</text>
<line x1="464.25" y1="207.60" x2="685.00" y2="207.60" stroke="#262626" stroke-width="1.5" stroke-linecap="butt"/>
<line x1="480.70" y1="207.60" x2="480.70" y2="215.60" stroke="#262626" stroke-width="1.5" stroke-linecap="butt"/>
<text font-size="9.3" text-anchor="middle" fill="#262626" transform="translate(480.70 226.80) scale(1 1.04)">NA</text>
<line x1="512.15" y1="207.60" x2="512.15" y2="215.60" stroke="#262626" stroke-width="1.5" stroke-linecap="butt"/>
<text font-size="9.3" text-anchor="middle" fill="#262626" transform="translate(512.15 226.80) scale(1 1.04)">PCL1</text>
<line x1="543.60" y1="207.60" x2="543.60" y2="215.60" stroke="#262626" stroke-width="1.5" stroke-linecap="butt"/>
<text font-size="9.3" text-anchor="middle" fill="#262626" transform="translate(543.60 226.80) scale(1 1.04)">PCL2</text>
<line x1="575.05" y1="207.60" x2="575.05" y2="215.60" stroke="#262626" stroke-width="1.5" stroke-linecap="butt"/>
<text font-size="9.3" text-anchor="middle" fill="#262626" transform="translate(575.05 226.80) scale(1 1.04)">PCM1</text>
<line x1="606.50" y1="207.60" x2="606.50" y2="215.60" stroke="#262626" stroke-width="1.5" stroke-linecap="butt"/>
<text font-size="9.3" text-anchor="middle" fill="#262626" transform="translate(606.50 226.80) scale(1 1.04)">PCM2</text>
<line x1="637.95" y1="207.60" x2="637.95" y2="215.60" stroke="#262626" stroke-width="1.5" stroke-linecap="butt"/>
<text font-size="9.3" text-anchor="middle" fill="#262626" transform="translate(637.95 226.80) scale(1 1.04)">PCH4</text>
<line x1="669.40" y1="207.60" x2="669.40" y2="215.60" stroke="#262626" stroke-width="1.5" stroke-linecap="butt"/>
<text font-size="9.3" text-anchor="middle" fill="#262626" transform="translate(669.40 226.80) scale(1 1.04)">PCH5</text>
<text font-size="9.3" text-anchor="middle" fill="#262626" transform="translate(574.80 241.20) scale(1 1.04)">mCherry Promoter</text>
<text font-size="9.3" text-anchor="middle" fill="#262626" transform="translate(430.60 105.70) rotate(-90) scale(1 1.04)">|Distance|</text>
<text font-size="9.5" text-anchor="start" fill="#262626" font-weight="bold" transform="translate(421.20 7.00) scale(1 1.04)">B</text>
<line x1="474.50" y1="137.50" x2="474.50" y2="139.80" stroke="#484848" stroke-width="1.3" stroke-linecap="butt"/>
<line x1="474.50" y1="173.30" x2="474.50" y2="182.30" stroke="#484848" stroke-width="1.3" stroke-linecap="butt"/>
<line x1="470.90" y1="137.50" x2="478.10" y2="137.50" stroke="#484848" stroke-width="1.3" stroke-linecap="butt"/>
<line x1="470.90" y1="182.30" x2="478.10" y2="182.30" stroke="#484848" stroke-width="1.3" stroke-linecap="butt"/>
<rect x="468.30" y="139.80" width="12.40" height="33.50" fill="#ffffff" stroke="#484848" stroke-width="1.3"/>
<line x1="468.30" y1="159.10" x2="480.70" y2="159.10" stroke="#484848" stroke-width="1.3" stroke-linecap="butt"/>
<line x1="505.95" y1="46.10" x2="505.95" y2="94.60" stroke="#484848" stroke-width="1.3" stroke-linecap="butt"/>
<line x1="505.95" y1="137.20" x2="505.95" y2="169.60" stroke="#484848" stroke-width="1.3" stroke-linecap="butt"/>
<line x1="502.35" y1="46.10" x2="509.55" y2="46.10" stroke="#484848" stroke-width="1.3" stroke-linecap="butt"/>
<line x1="502.35" y1="169.60" x2="509.55" y2="169.60" stroke="#484848" stroke-width="1.3" stroke-linecap="butt"/>
<rect x="499.75" y="94.60" width="12.40" height="42.60" fill="#ffffff" stroke="#484848" stroke-width="1.3"/>
<line x1="499.75" y1="115.40" x2="512.15" y2="115.40" stroke="#484848" stroke-width="1.3" stroke-linecap="butt"/>
<line x1="518.35" y1="130.90" x2="518.35" y2="134.10" stroke="#484848" stroke-width="1.3" stroke-linecap="butt"/>
<line x1="518.35" y1="146.20" x2="518.35" y2="146.40" stroke="#484848" stroke-width="1.3" stroke-linecap="butt"/>
<line x1="514.75" y1="130.90" x2="521.95" y2="130.90" stroke="#484848" stroke-width="1.3" stroke-linecap="butt"/>
<line x1="514.75" y1="146.40" x2="521.95" y2="146.40" stroke="#484848" stroke-width="1.3" stroke-linecap="butt"/>
<rect x="512.15" y="134.10" width="12.40" height="12.10" fill="#6d6d6d" stroke="#484848" stroke-width="1.3"/>
<line x1="512.15" y1="145.30" x2="524.55" y2="145.30" stroke="#484848" stroke-width="1.3" stroke-linecap="butt"/>
<line x1="537.40" y1="75.40" x2="537.40" y2="87.20" stroke="#484848" stroke-width="1.3" stroke-linecap="butt"/>
<line x1="537.40" y1="146.10" x2="537.40" y2="167.70" stroke="#484848" stroke-width="1.3" stroke-linecap="butt"/>
<line x1="533.80" y1="75.40" x2="541.00" y2="75.40" stroke="#484848" stroke-width="1.3" stroke-linecap="butt"/>
<line x1="533.80" y1="167.70" x2="541.00" y2="167.70" stroke="#484848" stroke-width="1.3" stroke-linecap="butt"/>
<rect x="531.20" y="87.20" width="12.40" height="58.90" fill="#ffffff" stroke="#484848" stroke-width="1.3"/>
<line x1="531.20" y1="102.50" x2="543.60" y2="102.50" stroke="#484848" stroke-width="1.3" stroke-linecap="butt"/>
<line x1="549.80" y1="108.50" x2="549.80" y2="114.40" stroke="#484848" stroke-width="1.3" stroke-linecap="butt"/>
<line x1="549.80" y1="142.80" x2="549.80" y2="163.80" stroke="#484848" stroke-width="1.3" stroke-linecap="butt"/>
<line x1="546.20" y1="108.50" x2="553.40" y2="108.50" stroke="#484848" stroke-width="1.3" stroke-linecap="butt"/>
<line x1="546.20" y1="163.80" x2="553.40" y2="163.80" stroke="#484848" stroke-width="1.3" stroke-linecap="butt"/>
<rect x="543.60" y="114.40" width="12.40" height="28.40" fill="#6d6d6d" stroke="#484848" stroke-width="1.3"/>
<line x1="543.60" y1="128.40" x2="556.00" y2="128.40" stroke="#484848" stroke-width="1.3" stroke-linecap="butt"/>
<line x1="568.85" y1="41.10" x2="568.85" y2="114.50" stroke="#484848" stroke-width="1.3" stroke-linecap="butt"/>
<line x1="568.85" y1="168.00" x2="568.85" y2="183.40" stroke="#484848" stroke-width="1.3" stroke-linecap="butt"/>
<line x1="565.25" y1="41.10" x2="572.45" y2="41.10" stroke="#484848" stroke-width="1.3" stroke-linecap="butt"/>
<line x1="565.25" y1="183.40" x2="572.45" y2="183.40" stroke="#484848" stroke-width="1.3" stroke-linecap="butt"/>
<rect x="562.65" y="114.50" width="12.40" height="53.50" fill="#ffffff" stroke="#484848" stroke-width="1.3"/>
<line x1="562.65" y1="162.60" x2="575.05" y2="162.60" stroke="#484848" stroke-width="1.3" stroke-linecap="butt"/>
<line x1="581.25" y1="77.90" x2="581.25" y2="95.60" stroke="#484848" stroke-width="1.3" stroke-linecap="butt"/>
<line x1="581.25" y1="156.90" x2="581.25" y2="167.30" stroke="#484848" stroke-width="1.3" stroke-linecap="butt"/>
<line x1="577.65" y1="77.90" x2="584.85" y2="77.90" stroke="#484848" stroke-width="1.3" stroke-linecap="butt"/>
<line x1="577.65" y1="167.30" x2="584.85" y2="167.30" stroke="#484848" stroke-width="1.3" stroke-linecap="butt"/>
<rect x="575.05" y="95.60" width="12.40" height="61.30" fill="#6d6d6d" stroke="#484848" stroke-width="1.3"/>
<line x1="575.05" y1="134.10" x2="587.45" y2="134.10" stroke="#484848" stroke-width="1.3" stroke-linecap="butt"/>
<line x1="600.30" y1="117.50" x2="600.30" y2="118.20" stroke="#484848" stroke-width="1.3" stroke-linecap="butt"/>
<line x1="600.30" y1="135.50" x2="600.30" y2="138.70" stroke="#484848" stroke-width="1.3" stroke-linecap="butt"/>
<line x1="596.70" y1="117.50" x2="603.90" y2="117.50" stroke="#484848" stroke-width="1.3" stroke-linecap="butt"/>
<line x1="596.70" y1="138.70" x2="603.90" y2="138.70" stroke="#484848" stroke-width="1.3" stroke-linecap="butt"/>
<rect x="594.10" y="118.20" width="12.40" height="17.30" fill="#ffffff" stroke="#484848" stroke-width="1.3"/>
<line x1="594.10" y1="123.40" x2="606.50" y2="123.40" stroke="#484848" stroke-width="1.3" stroke-linecap="butt"/>
<line x1="612.70" y1="136.10" x2="612.70" y2="159.50" stroke="#484848" stroke-width="1.3" stroke-linecap="butt"/>
<line x1="612.70" y1="179.10" x2="612.70" y2="179.90" stroke="#484848" stroke-width="1.3" stroke-linecap="butt"/>
<line x1="609.10" y1="136.10" x2="616.30" y2="136.10" stroke="#484848" stroke-width="1.3" stroke-linecap="butt"/>
<line x1="609.10" y1="179.90" x2="616.30" y2="179.90" stroke="#484848" stroke-width="1.3" stroke-linecap="butt"/>
<rect x="606.50" y="159.50" width="12.40" height="19.60" fill="#6d6d6d" stroke="#484848" stroke-width="1.3"/>
<line x1="606.50" y1="175.80" x2="618.90" y2="175.80" stroke="#484848" stroke-width="1.3" stroke-linecap="butt"/>
<line x1="631.75" y1="68.70" x2="631.75" y2="107.30" stroke="#484848" stroke-width="1.3" stroke-linecap="butt"/>
<line x1="631.75" y1="144.10" x2="631.75" y2="150.50" stroke="#484848" stroke-width="1.3" stroke-linecap="butt"/>
<line x1="628.15" y1="68.70" x2="635.35" y2="68.70" stroke="#484848" stroke-width="1.3" stroke-linecap="butt"/>
<line x1="628.15" y1="150.50" x2="635.35" y2="150.50" stroke="#484848" stroke-width="1.3" stroke-linecap="butt"/>
<rect x="625.55" y="107.30" width="12.40" height="36.80" fill="#ffffff" stroke="#484848" stroke-width="1.3"/>
<line x1="625.55" y1="122.60" x2="637.95" y2="122.60" stroke="#484848" stroke-width="1.3" stroke-linecap="butt"/>
<line x1="644.15" y1="116.40" x2="644.15" y2="121.60" stroke="#484848" stroke-width="1.3" stroke-linecap="butt"/>
<line x1="644.15" y1="171.10" x2="644.15" y2="186.60" stroke="#484848" stroke-width="1.3" stroke-linecap="butt"/>
<line x1="640.55" y1="116.40" x2="647.75" y2="116.40" stroke="#484848" stroke-width="1.3" stroke-linecap="butt"/>
<line x1="640.55" y1="186.60" x2="647.75" y2="186.60" stroke="#484848" stroke-width="1.3" stroke-linecap="butt"/>
<rect x="637.95" y="121.60" width="12.40" height="49.50" fill="#6d6d6d" stroke="#484848" stroke-width="1.3"/>
<line x1="637.95" y1="150.50" x2="650.35" y2="150.50" stroke="#484848" stroke-width="1.3" stroke-linecap="butt"/>
<line x1="663.20" y1="43.90" x2="663.20" y2="100.80" stroke="#484848" stroke-width="1.3" stroke-linecap="butt"/>
<line x1="663.20" y1="142.60" x2="663.20" y2="163.90" stroke="#484848" stroke-width="1.3" stroke-linecap="butt"/>
<line x1="659.60" y1="43.90" x2="666.80" y2="43.90" stroke="#484848" stroke-width="1.3" stroke-linecap="butt"/>
<line x1="659.60" y1="163.90" x2="666.80" y2="163.90" stroke="#484848" stroke-width="1.3" stroke-linecap="butt"/>
<rect x="657.00" y="100.80" width="12.40" height="41.80" fill="#ffffff" stroke="#484848" stroke-width="1.3"/>
<line x1="657.00" y1="124.20" x2="669.40" y2="124.20" stroke="#484848" stroke-width="1.3" stroke-linecap="butt"/>
<line x1="675.60" y1="131.40" x2="675.60" y2="144.50" stroke="#484848" stroke-width="1.3" stroke-linecap="butt"/>
<line x1="675.60" y1="163.20" x2="675.60" y2="165.30" stroke="#484848" stroke-width="1.3" stroke-linecap="butt"/>
<line x1="672.00" y1="131.40" x2="679.20" y2="131.40" stroke="#484848" stroke-width="1.3" stroke-linecap="butt"/>
<line x1="672.00" y1="165.30" x2="679.20" y2="165.30" stroke="#484848" stroke-width="1.3" stroke-linecap="butt"/>
<rect x="669.40" y="144.50" width="12.40" height="18.70" fill="#6d6d6d" stroke="#484848" stroke-width="1.3"/>
<line x1="669.40" y1="154.30" x2="681.80" y2="154.30" stroke="#484848" stroke-width="1.3" stroke-linecap="butt"/>
<line x1="465.00" y1="253.35" x2="465.00" y2="466.05" stroke="#262626" stroke-width="1.5" stroke-linecap="butt"/>
<line x1="457.00" y1="465.30" x2="465.00" y2="465.30" stroke="#262626" stroke-width="1.5" stroke-linecap="butt"/>
<text font-size="9.3" text-anchor="end" fill="#262626" transform="translate(452.60 468.50) scale(1 1.04)">0.00</text>
<line x1="457.00" y1="438.90" x2="465.00" y2="438.90" stroke="#262626" stroke-width="1.5" stroke-linecap="butt"/>
<text font-size="9.3" text-anchor="end" fill="#262626" transform="translate(452.60 442.10) scale(1 1.04)">0.05</text>
<line x1="457.00" y1="412.50" x2="465.00" y2="412.50" stroke="#262626" stroke-width="1.5" stroke-linecap="butt"/>
<text font-size="9.3" text-anchor="end" fill="#262626" transform="translate(452.60 415.70) scale(1 1.04)">0.10</text>
<line x1="457.00" y1="386.10" x2="465.00" y2="386.10" stroke="#262626" stroke-width="1.5" stroke-linecap="butt"/>
<text font-size="9.3" text-anchor="end" fill="#262626" transform="translate(452.60 389.30) scale(1 1.04)">0.15</text>
<line x1="457.00" y1="359.70" x2="465.00" y2="359.70" stroke="#262626" stroke-width="1.5" stroke-linecap="butt"/>
<text font-size="9.3" text-anchor="end" fill="#262626" transform="translate(452.60 362.90) scale(1 1.04)">0.20</text>
<line x1="457.00" y1="333.30" x2="465.00" y2="333.30" stroke="#262626" stroke-width="1.5" stroke-linecap="butt"/>
<text font-size="9.3" text-anchor="end" fill="#262626" transform="translate(452.60 336.50) scale(1 1.04)">0.25</text>
<line x1="457.00" y1="306.90" x2="465.00" y2="306.90" stroke="#262626" stroke-width="1.5" stroke-linecap="butt"/>
<text font-size="9.3" text-anchor="end" fill="#262626" transform="translate(452.60 310.10) scale(1 1.04)">0.30</text>
<line x1="457.00" y1="280.50" x2="465.00" y2="280.50" stroke="#262626" stroke-width="1.5" stroke-linecap="butt"/>
<text font-size="9.3" text-anchor="end" fill="#262626" transform="translate(452.60 283.70) scale(1 1.04)">0.35</text>
<line x1="457.00" y1="254.10" x2="465.00" y2="254.10" stroke="#262626" stroke-width="1.5" stroke-linecap="butt"/>
<text font-size="9.3" text-anchor="end" fill="#262626" transform="translate(452.60 257.30) scale(1 1.04)">0.40</text>
<line x1="464.25" y1="465.30" x2="685.00" y2="465.30" stroke="#262626" stroke-width="1.5" stroke-linecap="butt"/>
<line x1="480.70" y1="465.30" x2="480.70" y2="473.30" stroke="#262626" stroke-width="1.5" stroke-linecap="butt"/>
<text font-size="9.3" text-anchor="middle" fill="#262626" transform="translate(480.70 484.40) scale(1 1.04)">NA</text>
<line x1="512.15" y1="465.30" x2="512.15" y2="473.30" stroke="#262626" stroke-width="1.5" stroke-linecap="butt"/>
<text font-size="9.3" text-anchor="middle" fill="#262626" transform="translate(512.15 484.40) scale(1 1.04)">PCL1</text>
<line x1="543.60" y1="465.30" x2="543.60" y2="473.30" stroke="#262626" stroke-width="1.5" stroke-linecap="butt"/>
<text font-size="9.3" text-anchor="middle" fill="#262626" transform="translate(543.60 484.40) scale(1 1.04)">PCL2</text>
<line x1="575.05" y1="465.30" x2="575.05" y2="473.30" stroke="#262626" stroke-width="1.5" stroke-linecap="butt"/>
<text font-size="9.3" text-anchor="middle" fill="#262626" transform="translate(575.05 484.40) scale(1 1.04)">PCM1</text>
<line x1="606.50" y1="465.30" x2="606.50" y2="473.30" stroke="#262626" stroke-width="1.5" stroke-linecap="butt"/>
<text font-size="9.3" text-anchor="middle" fill="#262626" transform="translate(606.50 484.40) scale(1 1.04)">PCM2</text>
<line x1="637.95" y1="465.30" x2="637.95" y2="473.30" stroke="#262626" stroke-width="1.5" stroke-linecap="butt"/>
<text font-size="9.3" text-anchor="middle" fill="#262626" transform="translate(637.95 484.40) scale(1 1.04)">PCH4</text>
<line x1="669.40" y1="465.30" x2="669.40" y2="473.30" stroke="#262626" stroke-width="1.5" stroke-linecap="butt"/>
<text font-size="9.3" text-anchor="middle" fill="#262626" transform="translate(669.40 484.40) scale(1 1.04)">PCH5</text>
<text font-size="9.3" text-anchor="middle" fill="#262626" transform="translate(574.80 498.60) scale(1 1.04)">mCherry Promoter</text>
<text font-size="9.3" text-anchor="middle" fill="#262626" transform="translate(427.40 359.40) rotate(-90) scale(1 1.04)">CV</text>
<text font-size="9.5" text-anchor="start" fill="#262626" font-weight="bold" transform="translate(414.20 259.60) scale(1 1.04)">C</text>
<line x1="480.70" y1="348.60" x2="480.70" y2="354.40" stroke="#484848" stroke-width="1.2" stroke-linecap="butt"/>
<line x1="480.70" y1="362.70" x2="480.70" y2="374.90" stroke="#484848" stroke-width="1.2" stroke-linecap="butt"/>
<line x1="474.10" y1="348.60" x2="487.30" y2="348.60" stroke="#484848" stroke-width="1.2" stroke-linecap="butt"/>
<line x1="474.10" y1="374.90" x2="487.30" y2="374.90" stroke="#484848" stroke-width="1.2" stroke-linecap="butt"/>
<rect x="468.10" y="354.40" width="25.20" height="8.30" fill="#ffffff" stroke="#484848" stroke-width="1.2"/>
<line x1="468.10" y1="358.80" x2="493.30" y2="358.80" stroke="#484848" stroke-width="1.2" stroke-linecap="butt"/>
<line x1="512.15" y1="319.30" x2="512.15" y2="321.30" stroke="#484848" stroke-width="1.2" stroke-linecap="butt"/>
<line x1="512.15" y1="339.10" x2="512.15" y2="339.40" stroke="#484848" stroke-width="1.2" stroke-linecap="butt"/>
<line x1="505.55" y1="319.30" x2="518.75" y2="319.30" stroke="#484848" stroke-width="1.2" stroke-linecap="butt"/>
<line x1="505.55" y1="339.40" x2="518.75" y2="339.40" stroke="#484848" stroke-width="1.2" stroke-linecap="butt"/>
<rect x="499.55" y="321.30" width="25.20" height="17.80" fill="#6d6d6d" stroke="#484848" stroke-width="1.2"/>
<line x1="499.55" y1="332.40" x2="524.75" y2="332.40" stroke="#484848" stroke-width="1.2" stroke-linecap="butt"/>
<line x1="543.60" y1="423.30" x2="543.60" y2="423.30" stroke="#484848" stroke-width="1.2" stroke-linecap="butt"/>
<line x1="543.60" y1="427.70" x2="543.60" y2="429.40" stroke="#484848" stroke-width="1.2" stroke-linecap="butt"/>
<line x1="537.00" y1="423.30" x2="550.20" y2="423.30" stroke="#484848" stroke-width="1.2" stroke-linecap="butt"/>
<line x1="537.00" y1="429.40" x2="550.20" y2="429.40" stroke="#484848" stroke-width="1.2" stroke-linecap="butt"/>
<rect x="531.00" y="423.30" width="25.20" height="4.40" fill="#6d6d6d" stroke="#484848" stroke-width="1.2"/>
<line x1="531.00" y1="425.50" x2="556.20" y2="425.50" stroke="#484848" stroke-width="1.2" stroke-linecap="butt"/>
<line x1="575.05" y1="343.50" x2="575.05" y2="368.20" stroke="#484848" stroke-width="1.2" stroke-linecap="butt"/>
<line x1="575.05" y1="395.70" x2="575.05" y2="408.40" stroke="#484848" stroke-width="1.2" stroke-linecap="butt"/>
<line x1="568.45" y1="343.50" x2="581.65" y2="343.50" stroke="#484848" stroke-width="1.2" stroke-linecap="butt"/>
<line x1="568.45" y1="408.40" x2="581.65" y2="408.40" stroke="#484848" stroke-width="1.2" stroke-linecap="butt"/>
<rect x="562.45" y="368.20" width="25.20" height="27.50" fill="#6d6d6d" stroke="#484848" stroke-width="1.2"/>
<line x1="562.45" y1="387.80" x2="587.65" y2="387.80" stroke="#484848" stroke-width="1.2" stroke-linecap="butt"/>
<line x1="606.50" y1="326.50" x2="606.50" y2="329.10" stroke="#484848" stroke-width="1.2" stroke-linecap="butt"/>
<line x1="606.50" y1="368.40" x2="606.50" y2="377.60" stroke="#484848" stroke-width="1.2" stroke-linecap="butt"/>
<line x1="599.90" y1="326.50" x2="613.10" y2="326.50" stroke="#484848" stroke-width="1.2" stroke-linecap="butt"/>
<line x1="599.90" y1="377.60" x2="613.10" y2="377.60" stroke="#484848" stroke-width="1.2" stroke-linecap="butt"/>
<rect x="593.90" y="329.10" width="25.20" height="39.30" fill="#6d6d6d" stroke="#484848" stroke-width="1.2"/>
<line x1="593.90" y1="349.90" x2="619.10" y2="349.90" stroke="#484848" stroke-width="1.2" stroke-linecap="butt"/>
<line x1="637.95" y1="335.50" x2="637.95" y2="352.50" stroke="#484848" stroke-width="1.2" stroke-linecap="butt"/>
<line x1="637.95" y1="376.50" x2="637.95" y2="384.90" stroke="#484848" stroke-width="1.2" stroke-linecap="butt"/>
<line x1="631.35" y1="335.50" x2="644.55" y2="335.50" stroke="#484848" stroke-width="1.2" stroke-linecap="butt"/>
<line x1="631.35" y1="384.90" x2="644.55" y2="384.90" stroke="#484848" stroke-width="1.2" stroke-linecap="butt"/>
<rect x="625.35" y="352.50" width="25.20" height="24.00" fill="#6d6d6d" stroke="#484848" stroke-width="1.2"/>
<line x1="625.35" y1="364.50" x2="650.55" y2="364.50" stroke="#484848" stroke-width="1.2" stroke-linecap="butt"/>
<line x1="669.40" y1="298.30" x2="669.40" y2="307.20" stroke="#484848" stroke-width="1.2" stroke-linecap="butt"/>
<line x1="669.40" y1="351.30" x2="669.40" y2="378.40" stroke="#484848" stroke-width="1.2" stroke-linecap="butt"/>
<line x1="662.80" y1="298.30" x2="676.00" y2="298.30" stroke="#484848" stroke-width="1.2" stroke-linecap="butt"/>
<line x1="662.80" y1="378.40" x2="676.00" y2="378.40" stroke="#484848" stroke-width="1.2" stroke-linecap="butt"/>
<rect x="656.80" y="307.20" width="25.20" height="44.10" fill="#6d6d6d" stroke="#484848" stroke-width="1.2"/>
<line x1="656.80" y1="338.20" x2="682.00" y2="338.20" stroke="#484848" stroke-width="1.2" stroke-linecap="butt"/>
<circle cx="479.30" cy="348.60" r="3.15" fill="#ffffff" stroke="#262626" stroke-width="1.05"/>
<circle cx="482.50" cy="354.40" r="3.15" fill="#ffffff" stroke="#262626" stroke-width="1.05"/>
<circle cx="479.60" cy="355.20" r="3.15" fill="#ffffff" stroke="#262626" stroke-width="1.05"/>
<circle cx="480.20" cy="362.00" r="3.15" fill="#ffffff" stroke="#262626" stroke-width="1.05"/>
<circle cx="483.20" cy="363.20" r="3.15" fill="#ffffff" stroke="#262626" stroke-width="1.05"/>
<circle cx="479.30" cy="374.90" r="3.15" fill="#ffffff" stroke="#262626" stroke-width="1.05"/>
<circle cx="509.30" cy="319.30" r="3.15" fill="#ffffff" stroke="#262626" stroke-width="1.05"/>
<circle cx="512.30" cy="327.40" r="3.15" fill="#ffffff" stroke="#262626" stroke-width="1.05"/>
<circle cx="511.90" cy="338.00" r="3.15" fill="#ffffff" stroke="#262626" stroke-width="1.05"/>
<circle cx="514.50" cy="339.40" r="3.15" fill="#ffffff" stroke="#262626" stroke-width="1.05"/>
<circle cx="513.40" cy="401.10" r="3.15" fill="#ffffff" stroke="#262626" stroke-width="1.05"/>
<circle cx="544.30" cy="386.40" r="3.15" fill="#ffffff" stroke="#262626" stroke-width="1.05"/>
<circle cx="545.50" cy="423.30" r="3.15" fill="#ffffff" stroke="#262626" stroke-width="1.05"/>
<circle cx="541.10" cy="425.80" r="3.15" fill="#ffffff" stroke="#262626" stroke-width="1.05"/>
<circle cx="543.60" cy="429.40" r="3.15" fill="#ffffff" stroke="#262626" stroke-width="1.05"/>
<circle cx="576.90" cy="343.50" r="3.15" fill="#ffffff" stroke="#262626" stroke-width="1.05"/>
<circle cx="574.70" cy="363.20" r="3.15" fill="#ffffff" stroke="#262626" stroke-width="1.05"/>
<circle cx="575.10" cy="383.60" r="3.15" fill="#ffffff" stroke="#262626" stroke-width="1.05"/>
<circle cx="571.80" cy="391.60" r="3.15" fill="#ffffff" stroke="#262626" stroke-width="1.05"/>
<circle cx="574.70" cy="397.00" r="3.15" fill="#ffffff" stroke="#262626" stroke-width="1.05"/>
<circle cx="576.90" cy="408.40" r="3.15" fill="#ffffff" stroke="#262626" stroke-width="1.05"/>
<circle cx="603.20" cy="327.50" r="3.15" fill="#ffffff" stroke="#262626" stroke-width="1.05"/>
<circle cx="607.20" cy="326.50" r="3.15" fill="#ffffff" stroke="#262626" stroke-width="1.05"/>
<circle cx="602.80" cy="333.80" r="3.15" fill="#ffffff" stroke="#262626" stroke-width="1.05"/>
<circle cx="602.80" cy="364.50" r="3.15" fill="#ffffff" stroke="#262626" stroke-width="1.05"/>
<circle cx="602.80" cy="366.40" r="3.15" fill="#ffffff" stroke="#262626" stroke-width="1.05"/>
<circle cx="602.80" cy="377.60" r="3.15" fill="#ffffff" stroke="#262626" stroke-width="1.05"/>
<circle cx="635.40" cy="335.50" r="3.15" fill="#ffffff" stroke="#262626" stroke-width="1.05"/>
<circle cx="634.60" cy="349.90" r="3.15" fill="#ffffff" stroke="#262626" stroke-width="1.05"/>
<circle cx="638.60" cy="360.00" r="3.15" fill="#ffffff" stroke="#262626" stroke-width="1.05"/>
<circle cx="636.40" cy="368.90" r="3.15" fill="#ffffff" stroke="#262626" stroke-width="1.05"/>
<circle cx="638.30" cy="378.40" r="3.15" fill="#ffffff" stroke="#262626" stroke-width="1.05"/>
<circle cx="637.60" cy="384.90" r="3.15" fill="#ffffff" stroke="#262626" stroke-width="1.05"/>
<circle cx="670.80" cy="298.30" r="3.15" fill="#ffffff" stroke="#262626" stroke-width="1.05"/>
<circle cx="667.50" cy="335.00" r="3.15" fill="#ffffff" stroke="#262626" stroke-width="1.05"/>
<circle cx="667.80" cy="341.80" r="3.15" fill="#ffffff" stroke="#262626" stroke-width="1.05"/>
<circle cx="668.90" cy="354.50" r="3.15" fill="#ffffff" stroke="#262626" stroke-width="1.05"/>
<circle cx="668.50" cy="378.40" r="3.15" fill="#ffffff" stroke="#262626" stroke-width="1.05"/>
<rect x="496.6" y="505.8" width="18.6" height="6.2" fill="#ffffff" stroke="#484848" stroke-width="1.2"/>
<text font-size="9.3" text-anchor="start" fill="#262626" transform="translate(522.80 511.80) scale(1 1.04)">eGFP</text>
<rect x="565.6" y="505.8" width="18.6" height="6.2" fill="#6d6d6d" stroke="#484848" stroke-width="1.2"/>
<text font-size="9.3" text-anchor="start" fill="#262626" transform="translate(591.80 511.80) scale(1 1.04)">eGFP/mCherry</text>
</svg>
</body></html>
